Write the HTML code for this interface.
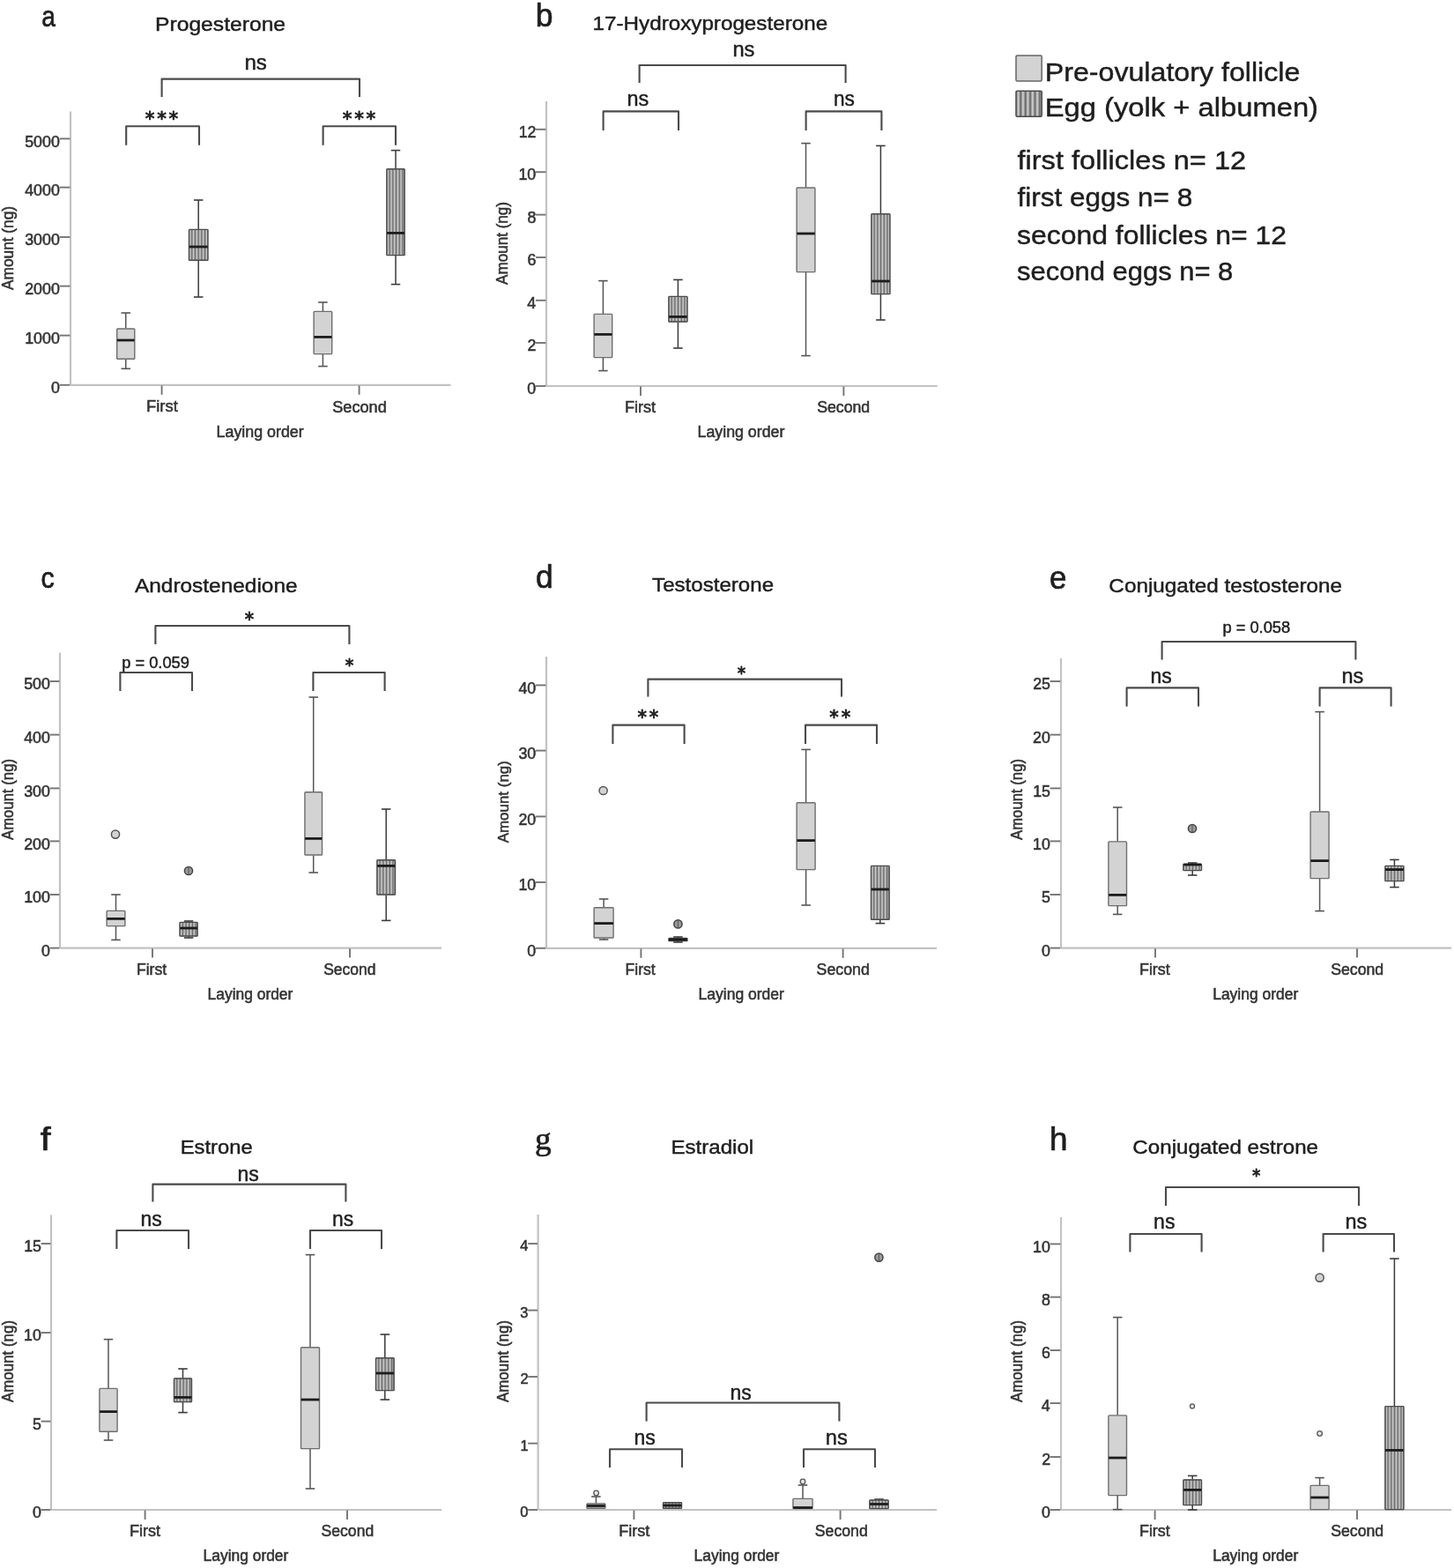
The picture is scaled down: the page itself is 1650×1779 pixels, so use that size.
<!DOCTYPE html>
<html><head><meta charset="utf-8"><title>Steroid hormone amounts by laying order</title>
<style>
html,body{margin:0;padding:0;background:#fff;}
body{width:1650px;height:1779px;overflow:hidden;}
svg{display:block;}

</style></head><body>
<svg width="1650" height="1779" viewBox="0 0 1650 1779">
<line x1="80" y1="126.5" x2="80" y2="436.8" stroke="#c2c2c2" stroke-width="2.2" stroke-linecap="butt"/>
<line x1="80" y1="436.8" x2="511.5" y2="436.8" stroke="#c2c2c2" stroke-width="2.2" stroke-linecap="butt"/>
<line x1="67.6" y1="436.8" x2="79.4" y2="436.8" stroke="#747474" stroke-width="1.9" stroke-linecap="butt"/>
<text x="57.94" y="445.9" font-size="17.8" textLength="9.9" lengthAdjust="spacingAndGlyphs" fill="#333333" stroke="#333333" stroke-width="0.55" font-family='"Liberation Sans", Arial, sans-serif'>0</text>
<line x1="67.6" y1="380.6" x2="79.4" y2="380.6" stroke="#747474" stroke-width="1.9" stroke-linecap="butt"/>
<text x="28.22" y="389.7" font-size="17.8" textLength="39.6" lengthAdjust="spacingAndGlyphs" fill="#333333" stroke="#333333" stroke-width="0.55" font-family='"Liberation Sans", Arial, sans-serif'>1000</text>
<line x1="67.6" y1="324.6" x2="79.4" y2="324.6" stroke="#747474" stroke-width="1.9" stroke-linecap="butt"/>
<text x="28.22" y="333.7" font-size="17.8" textLength="39.6" lengthAdjust="spacingAndGlyphs" fill="#333333" stroke="#333333" stroke-width="0.55" font-family='"Liberation Sans", Arial, sans-serif'>2000</text>
<line x1="67.6" y1="269" x2="79.4" y2="269" stroke="#747474" stroke-width="1.9" stroke-linecap="butt"/>
<text x="28.22" y="278.1" font-size="17.8" textLength="39.6" lengthAdjust="spacingAndGlyphs" fill="#333333" stroke="#333333" stroke-width="0.55" font-family='"Liberation Sans", Arial, sans-serif'>3000</text>
<line x1="67.6" y1="212.6" x2="79.4" y2="212.6" stroke="#747474" stroke-width="1.9" stroke-linecap="butt"/>
<text x="28.22" y="221.7" font-size="17.8" textLength="39.6" lengthAdjust="spacingAndGlyphs" fill="#333333" stroke="#333333" stroke-width="0.55" font-family='"Liberation Sans", Arial, sans-serif'>4000</text>
<line x1="67.6" y1="157.4" x2="79.4" y2="157.4" stroke="#747474" stroke-width="1.9" stroke-linecap="butt"/>
<text x="28.22" y="166.5" font-size="17.8" textLength="39.6" lengthAdjust="spacingAndGlyphs" fill="#333333" stroke="#333333" stroke-width="0.55" font-family='"Liberation Sans", Arial, sans-serif'>5000</text>
<line x1="183.6" y1="437.4" x2="183.6" y2="447.8" stroke="#747474" stroke-width="1.9" stroke-linecap="butt"/>
<line x1="407.6" y1="437.4" x2="407.6" y2="447.8" stroke="#747474" stroke-width="1.9" stroke-linecap="butt"/>
<text x="166.03" y="467.3" font-size="18" textLength="35.73" lengthAdjust="spacingAndGlyphs" fill="#333333" stroke="#333333" stroke-width="0.55" font-family='"Liberation Sans", Arial, sans-serif'>First</text>
<text x="377.18" y="467.6" font-size="18" textLength="61.63" lengthAdjust="spacingAndGlyphs" fill="#333333" stroke="#333333" stroke-width="0.55" font-family='"Liberation Sans", Arial, sans-serif'>Second</text>
<text x="245.57" y="496" font-size="17.5" textLength="99.17" lengthAdjust="spacingAndGlyphs" fill="#333333" stroke="#333333" stroke-width="0.55" font-family='"Liberation Sans", Arial, sans-serif'>Laying order</text>
<text transform="translate(15.47 329) rotate(-90)" x="0" y="0" font-size="17.75" textLength="95.08" lengthAdjust="spacingAndGlyphs" fill="#333333" stroke="#333333" stroke-width="0.55" font-family='"Liberation Sans", Arial, sans-serif'>Amount (ng)</text>
<line x1="142.75" y1="355" x2="142.75" y2="372.6" stroke="#555" stroke-width="1.5" stroke-linecap="butt"/>
<line x1="137.5" y1="355" x2="148" y2="355" stroke="#555" stroke-width="1.6" stroke-linecap="butt"/>
<line x1="142.75" y1="407.7" x2="142.75" y2="418.3" stroke="#555" stroke-width="1.5" stroke-linecap="butt"/>
<line x1="137.5" y1="418.3" x2="148" y2="418.3" stroke="#555" stroke-width="1.6" stroke-linecap="butt"/>
<rect x="132.7" y="373" width="20.1" height="34.3" fill="#d3d3d3" stroke="#6e6e6e" stroke-width="1.4" rx="0.8"/>
<line x1="132.9" y1="386" x2="152.6" y2="386" stroke="#1c1c1c" stroke-width="2.8" stroke-linecap="butt"/>
<line x1="225.2" y1="227" x2="225.2" y2="260" stroke="#3a3a3a" stroke-width="1.5" stroke-linecap="butt"/>
<line x1="219.95" y1="227" x2="230.45" y2="227" stroke="#3a3a3a" stroke-width="1.6" stroke-linecap="butt"/>
<line x1="225.2" y1="295.6" x2="225.2" y2="337" stroke="#3a3a3a" stroke-width="1.5" stroke-linecap="butt"/>
<line x1="219.95" y1="337" x2="230.45" y2="337" stroke="#3a3a3a" stroke-width="1.6" stroke-linecap="butt"/>
<rect x="214" y="260" width="22.4" height="35.6" fill="#9c9c9c" stroke="none"/>
<line x1="215.9" y1="260" x2="215.9" y2="295.6" stroke="#cfcfcf" stroke-width="1" stroke-linecap="butt"/>
<line x1="217.75" y1="260" x2="217.75" y2="295.6" stroke="#6f6f6f" stroke-width="1" stroke-linecap="butt"/>
<line x1="219.6" y1="260" x2="219.6" y2="295.6" stroke="#cfcfcf" stroke-width="1" stroke-linecap="butt"/>
<line x1="221.45" y1="260" x2="221.45" y2="295.6" stroke="#6f6f6f" stroke-width="1" stroke-linecap="butt"/>
<line x1="223.3" y1="260" x2="223.3" y2="295.6" stroke="#cfcfcf" stroke-width="1" stroke-linecap="butt"/>
<line x1="225.15" y1="260" x2="225.15" y2="295.6" stroke="#6f6f6f" stroke-width="1" stroke-linecap="butt"/>
<line x1="227" y1="260" x2="227" y2="295.6" stroke="#cfcfcf" stroke-width="1" stroke-linecap="butt"/>
<line x1="228.85" y1="260" x2="228.85" y2="295.6" stroke="#6f6f6f" stroke-width="1" stroke-linecap="butt"/>
<line x1="230.7" y1="260" x2="230.7" y2="295.6" stroke="#cfcfcf" stroke-width="1" stroke-linecap="butt"/>
<line x1="232.55" y1="260" x2="232.55" y2="295.6" stroke="#6f6f6f" stroke-width="1" stroke-linecap="butt"/>
<line x1="234.4" y1="260" x2="234.4" y2="295.6" stroke="#cfcfcf" stroke-width="1" stroke-linecap="butt"/>
<rect x="214.5" y="260.4" width="21.4" height="34.8" fill="none" stroke="#4a4a4a" stroke-width="1.4" rx="0.8"/>
<line x1="214.7" y1="280" x2="235.7" y2="280" stroke="#1c1c1c" stroke-width="2.8" stroke-linecap="butt"/>
<line x1="366.4" y1="343" x2="366.4" y2="353" stroke="#555" stroke-width="1.5" stroke-linecap="butt"/>
<line x1="361.15" y1="343" x2="371.65" y2="343" stroke="#555" stroke-width="1.6" stroke-linecap="butt"/>
<line x1="366.4" y1="402" x2="366.4" y2="415.6" stroke="#555" stroke-width="1.5" stroke-linecap="butt"/>
<line x1="361.15" y1="415.6" x2="371.65" y2="415.6" stroke="#555" stroke-width="1.6" stroke-linecap="butt"/>
<rect x="356.1" y="353.4" width="20.6" height="48.2" fill="#d3d3d3" stroke="#6e6e6e" stroke-width="1.4" rx="0.8"/>
<line x1="356.3" y1="382.4" x2="376.5" y2="382.4" stroke="#1c1c1c" stroke-width="2.8" stroke-linecap="butt"/>
<line x1="449" y1="170.6" x2="449" y2="191.4" stroke="#3a3a3a" stroke-width="1.5" stroke-linecap="butt"/>
<line x1="443.75" y1="170.6" x2="454.25" y2="170.6" stroke="#3a3a3a" stroke-width="1.6" stroke-linecap="butt"/>
<line x1="449" y1="290" x2="449" y2="322.6" stroke="#3a3a3a" stroke-width="1.5" stroke-linecap="butt"/>
<line x1="443.75" y1="322.6" x2="454.25" y2="322.6" stroke="#3a3a3a" stroke-width="1.6" stroke-linecap="butt"/>
<rect x="438.4" y="191.4" width="21.2" height="98.6" fill="#9c9c9c" stroke="none"/>
<line x1="440.3" y1="191.4" x2="440.3" y2="290" stroke="#cfcfcf" stroke-width="1" stroke-linecap="butt"/>
<line x1="442.15" y1="191.4" x2="442.15" y2="290" stroke="#6f6f6f" stroke-width="1" stroke-linecap="butt"/>
<line x1="444" y1="191.4" x2="444" y2="290" stroke="#cfcfcf" stroke-width="1" stroke-linecap="butt"/>
<line x1="445.85" y1="191.4" x2="445.85" y2="290" stroke="#6f6f6f" stroke-width="1" stroke-linecap="butt"/>
<line x1="447.7" y1="191.4" x2="447.7" y2="290" stroke="#cfcfcf" stroke-width="1" stroke-linecap="butt"/>
<line x1="449.55" y1="191.4" x2="449.55" y2="290" stroke="#6f6f6f" stroke-width="1" stroke-linecap="butt"/>
<line x1="451.4" y1="191.4" x2="451.4" y2="290" stroke="#cfcfcf" stroke-width="1" stroke-linecap="butt"/>
<line x1="453.25" y1="191.4" x2="453.25" y2="290" stroke="#6f6f6f" stroke-width="1" stroke-linecap="butt"/>
<line x1="455.1" y1="191.4" x2="455.1" y2="290" stroke="#cfcfcf" stroke-width="1" stroke-linecap="butt"/>
<line x1="456.95" y1="191.4" x2="456.95" y2="290" stroke="#6f6f6f" stroke-width="1" stroke-linecap="butt"/>
<rect x="438.9" y="191.8" width="20.2" height="97.8" fill="none" stroke="#4a4a4a" stroke-width="1.4" rx="0.8"/>
<line x1="439.1" y1="264.4" x2="458.9" y2="264.4" stroke="#1c1c1c" stroke-width="2.8" stroke-linecap="butt"/>
<path d="M183.6 110 V89.6 H408 V110" fill="none" stroke="#4a4a4a" stroke-width="2.1" stroke-linejoin="round"/>
<path d="M143.2 164.8 V143.3 H226 V164.8" fill="none" stroke="#4a4a4a" stroke-width="2.1" stroke-linejoin="round"/>
<path d="M366.6 164.8 V143.3 H449 V164.8" fill="none" stroke="#4a4a4a" stroke-width="2.1" stroke-linejoin="round"/>
<text x="277.43" y="79.1" font-size="23.5" textLength="25.44" lengthAdjust="spacingAndGlyphs" fill="#1e1e1e" stroke="#1e1e1e" stroke-width="0.45" font-family='"Liberation Sans", Arial, sans-serif'>ns</text>
<text x="164.87" y="141.77" font-size="21.3" letter-spacing="2.65" fill="#1e1e1e" stroke="#1e1e1e" stroke-width="0.9" stroke-linejoin="round" font-family='"DejaVu Sans", sans-serif'>***</text>
<text x="388.87" y="141.77" font-size="21.3" letter-spacing="2.65" fill="#1e1e1e" stroke="#1e1e1e" stroke-width="0.9" stroke-linejoin="round" font-family='"DejaVu Sans", sans-serif'>***</text>
<text x="176.03" y="35" font-size="22.6" textLength="148.06" lengthAdjust="spacingAndGlyphs" fill="#1e1e1e" stroke="#1e1e1e" stroke-width="0.45" font-family='"Liberation Sans", Arial, sans-serif'>Progesterone</text>
<text x="47.27" y="30.06" font-size="33.82" textLength="15.66" lengthAdjust="spacingAndGlyphs" fill="#1e1e1e" stroke="#1e1e1e" stroke-width="0.7" font-family='"Liberation Sans", Arial, sans-serif'>a</text>
<line x1="620" y1="115" x2="620" y2="438" stroke="#c2c2c2" stroke-width="2.2" stroke-linecap="butt"/>
<line x1="620" y1="438" x2="1063.6" y2="438" stroke="#c2c2c2" stroke-width="2.2" stroke-linecap="butt"/>
<line x1="608" y1="438" x2="619.4" y2="438" stroke="#747474" stroke-width="1.9" stroke-linecap="butt"/>
<text x="598.34" y="447.1" font-size="17.8" textLength="9.9" lengthAdjust="spacingAndGlyphs" fill="#333333" stroke="#333333" stroke-width="0.55" font-family='"Liberation Sans", Arial, sans-serif'>0</text>
<line x1="608" y1="389" x2="619.4" y2="389" stroke="#747474" stroke-width="1.9" stroke-linecap="butt"/>
<text x="598.61" y="398.1" font-size="17.8" textLength="9.9" lengthAdjust="spacingAndGlyphs" fill="#333333" stroke="#333333" stroke-width="0.55" font-family='"Liberation Sans", Arial, sans-serif'>2</text>
<line x1="608" y1="340.8" x2="619.4" y2="340.8" stroke="#747474" stroke-width="1.9" stroke-linecap="butt"/>
<text x="598.25" y="349.9" font-size="17.8" textLength="9.9" lengthAdjust="spacingAndGlyphs" fill="#333333" stroke="#333333" stroke-width="0.55" font-family='"Liberation Sans", Arial, sans-serif'>4</text>
<line x1="608" y1="292" x2="619.4" y2="292" stroke="#747474" stroke-width="1.9" stroke-linecap="butt"/>
<text x="598.43" y="301.1" font-size="17.8" textLength="9.9" lengthAdjust="spacingAndGlyphs" fill="#333333" stroke="#333333" stroke-width="0.55" font-family='"Liberation Sans", Arial, sans-serif'>6</text>
<line x1="608" y1="243.6" x2="619.4" y2="243.6" stroke="#747474" stroke-width="1.9" stroke-linecap="butt"/>
<text x="598.43" y="252.7" font-size="17.8" textLength="9.9" lengthAdjust="spacingAndGlyphs" fill="#333333" stroke="#333333" stroke-width="0.55" font-family='"Liberation Sans", Arial, sans-serif'>8</text>
<line x1="608" y1="195.2" x2="619.4" y2="195.2" stroke="#747474" stroke-width="1.9" stroke-linecap="butt"/>
<text x="588.47" y="204.3" font-size="17.8" textLength="19.8" lengthAdjust="spacingAndGlyphs" fill="#333333" stroke="#333333" stroke-width="0.55" font-family='"Liberation Sans", Arial, sans-serif'>10</text>
<line x1="608" y1="146.8" x2="619.4" y2="146.8" stroke="#747474" stroke-width="1.9" stroke-linecap="butt"/>
<text x="588.73" y="155.9" font-size="17.8" textLength="19.8" lengthAdjust="spacingAndGlyphs" fill="#333333" stroke="#333333" stroke-width="0.55" font-family='"Liberation Sans", Arial, sans-serif'>12</text>
<line x1="727" y1="438.6" x2="727" y2="449" stroke="#747474" stroke-width="1.9" stroke-linecap="butt"/>
<line x1="957.4" y1="438.6" x2="957.4" y2="449" stroke="#747474" stroke-width="1.9" stroke-linecap="butt"/>
<text x="708.95" y="468" font-size="18" textLength="35.21" lengthAdjust="spacingAndGlyphs" fill="#333333" stroke="#333333" stroke-width="0.55" font-family='"Liberation Sans", Arial, sans-serif'>First</text>
<text x="927.2" y="468" font-size="18" textLength="59.98" lengthAdjust="spacingAndGlyphs" fill="#333333" stroke="#333333" stroke-width="0.55" font-family='"Liberation Sans", Arial, sans-serif'>Second</text>
<text x="791.58" y="496" font-size="17.5" textLength="98.76" lengthAdjust="spacingAndGlyphs" fill="#333333" stroke="#333333" stroke-width="0.55" font-family='"Liberation Sans", Arial, sans-serif'>Laying order</text>
<text transform="translate(576.47 323) rotate(-90)" x="0" y="0" font-size="17.75" textLength="94.07" lengthAdjust="spacingAndGlyphs" fill="#333333" stroke="#333333" stroke-width="0.55" font-family='"Liberation Sans", Arial, sans-serif'>Amount (ng)</text>
<line x1="684.4" y1="318.6" x2="684.4" y2="356" stroke="#555" stroke-width="1.5" stroke-linecap="butt"/>
<line x1="679.15" y1="318.6" x2="689.65" y2="318.6" stroke="#555" stroke-width="1.6" stroke-linecap="butt"/>
<line x1="684.4" y1="406" x2="684.4" y2="420.6" stroke="#555" stroke-width="1.5" stroke-linecap="butt"/>
<line x1="679.15" y1="420.6" x2="689.65" y2="420.6" stroke="#555" stroke-width="1.6" stroke-linecap="butt"/>
<rect x="674.1" y="356.4" width="20.6" height="49.2" fill="#d3d3d3" stroke="#6e6e6e" stroke-width="1.4" rx="0.8"/>
<line x1="674.3" y1="379.4" x2="694.5" y2="379.4" stroke="#1c1c1c" stroke-width="2.8" stroke-linecap="butt"/>
<line x1="769.4" y1="317.4" x2="769.4" y2="336" stroke="#3a3a3a" stroke-width="1.5" stroke-linecap="butt"/>
<line x1="764.15" y1="317.4" x2="774.65" y2="317.4" stroke="#3a3a3a" stroke-width="1.6" stroke-linecap="butt"/>
<line x1="769.4" y1="365.4" x2="769.4" y2="395" stroke="#3a3a3a" stroke-width="1.5" stroke-linecap="butt"/>
<line x1="764.15" y1="395" x2="774.65" y2="395" stroke="#3a3a3a" stroke-width="1.6" stroke-linecap="butt"/>
<rect x="758.4" y="336" width="22" height="29.4" fill="#9c9c9c" stroke="none"/>
<line x1="760.3" y1="336" x2="760.3" y2="365.4" stroke="#cfcfcf" stroke-width="1" stroke-linecap="butt"/>
<line x1="762.15" y1="336" x2="762.15" y2="365.4" stroke="#6f6f6f" stroke-width="1" stroke-linecap="butt"/>
<line x1="764" y1="336" x2="764" y2="365.4" stroke="#cfcfcf" stroke-width="1" stroke-linecap="butt"/>
<line x1="765.85" y1="336" x2="765.85" y2="365.4" stroke="#6f6f6f" stroke-width="1" stroke-linecap="butt"/>
<line x1="767.7" y1="336" x2="767.7" y2="365.4" stroke="#cfcfcf" stroke-width="1" stroke-linecap="butt"/>
<line x1="769.55" y1="336" x2="769.55" y2="365.4" stroke="#6f6f6f" stroke-width="1" stroke-linecap="butt"/>
<line x1="771.4" y1="336" x2="771.4" y2="365.4" stroke="#cfcfcf" stroke-width="1" stroke-linecap="butt"/>
<line x1="773.25" y1="336" x2="773.25" y2="365.4" stroke="#6f6f6f" stroke-width="1" stroke-linecap="butt"/>
<line x1="775.1" y1="336" x2="775.1" y2="365.4" stroke="#cfcfcf" stroke-width="1" stroke-linecap="butt"/>
<line x1="776.95" y1="336" x2="776.95" y2="365.4" stroke="#6f6f6f" stroke-width="1" stroke-linecap="butt"/>
<line x1="778.8" y1="336" x2="778.8" y2="365.4" stroke="#cfcfcf" stroke-width="1" stroke-linecap="butt"/>
<rect x="758.9" y="336.4" width="21" height="28.6" fill="none" stroke="#4a4a4a" stroke-width="1.4" rx="0.8"/>
<line x1="759.1" y1="359.4" x2="779.7" y2="359.4" stroke="#1c1c1c" stroke-width="2.8" stroke-linecap="butt"/>
<line x1="914.5" y1="162.6" x2="914.5" y2="212.6" stroke="#555" stroke-width="1.5" stroke-linecap="butt"/>
<line x1="909.25" y1="162.6" x2="919.75" y2="162.6" stroke="#555" stroke-width="1.6" stroke-linecap="butt"/>
<line x1="914.5" y1="309" x2="914.5" y2="403.6" stroke="#555" stroke-width="1.5" stroke-linecap="butt"/>
<line x1="909.25" y1="403.6" x2="919.75" y2="403.6" stroke="#555" stroke-width="1.6" stroke-linecap="butt"/>
<rect x="904.1" y="213" width="20.8" height="95.6" fill="#d3d3d3" stroke="#6e6e6e" stroke-width="1.4" rx="0.8"/>
<line x1="904.3" y1="265" x2="924.7" y2="265" stroke="#1c1c1c" stroke-width="2.8" stroke-linecap="butt"/>
<line x1="999.4" y1="165.4" x2="999.4" y2="242.4" stroke="#3a3a3a" stroke-width="1.5" stroke-linecap="butt"/>
<line x1="994.15" y1="165.4" x2="1004.65" y2="165.4" stroke="#3a3a3a" stroke-width="1.6" stroke-linecap="butt"/>
<line x1="999.4" y1="334" x2="999.4" y2="363" stroke="#3a3a3a" stroke-width="1.5" stroke-linecap="butt"/>
<line x1="994.15" y1="363" x2="1004.65" y2="363" stroke="#3a3a3a" stroke-width="1.6" stroke-linecap="butt"/>
<rect x="988.4" y="242.4" width="22" height="91.6" fill="#9c9c9c" stroke="none"/>
<line x1="990.3" y1="242.4" x2="990.3" y2="334" stroke="#cfcfcf" stroke-width="1" stroke-linecap="butt"/>
<line x1="992.15" y1="242.4" x2="992.15" y2="334" stroke="#6f6f6f" stroke-width="1" stroke-linecap="butt"/>
<line x1="994" y1="242.4" x2="994" y2="334" stroke="#cfcfcf" stroke-width="1" stroke-linecap="butt"/>
<line x1="995.85" y1="242.4" x2="995.85" y2="334" stroke="#6f6f6f" stroke-width="1" stroke-linecap="butt"/>
<line x1="997.7" y1="242.4" x2="997.7" y2="334" stroke="#cfcfcf" stroke-width="1" stroke-linecap="butt"/>
<line x1="999.55" y1="242.4" x2="999.55" y2="334" stroke="#6f6f6f" stroke-width="1" stroke-linecap="butt"/>
<line x1="1001.4" y1="242.4" x2="1001.4" y2="334" stroke="#cfcfcf" stroke-width="1" stroke-linecap="butt"/>
<line x1="1003.25" y1="242.4" x2="1003.25" y2="334" stroke="#6f6f6f" stroke-width="1" stroke-linecap="butt"/>
<line x1="1005.1" y1="242.4" x2="1005.1" y2="334" stroke="#cfcfcf" stroke-width="1" stroke-linecap="butt"/>
<line x1="1006.95" y1="242.4" x2="1006.95" y2="334" stroke="#6f6f6f" stroke-width="1" stroke-linecap="butt"/>
<line x1="1008.8" y1="242.4" x2="1008.8" y2="334" stroke="#cfcfcf" stroke-width="1" stroke-linecap="butt"/>
<rect x="988.9" y="242.8" width="21" height="90.8" fill="none" stroke="#4a4a4a" stroke-width="1.4" rx="0.8"/>
<line x1="989.1" y1="319" x2="1009.7" y2="319" stroke="#1c1c1c" stroke-width="2.8" stroke-linecap="butt"/>
<path d="M725.6 94 V74 H959.6 V94" fill="none" stroke="#4a4a4a" stroke-width="2.1" stroke-linejoin="round"/>
<path d="M684.6 148 V126.4 H770 V148" fill="none" stroke="#4a4a4a" stroke-width="2.1" stroke-linejoin="round"/>
<path d="M914.6 148 V126.4 H1000.4 V148" fill="none" stroke="#4a4a4a" stroke-width="2.1" stroke-linejoin="round"/>
<text x="831.46" y="63.5" font-size="23.5" textLength="24.99" lengthAdjust="spacingAndGlyphs" fill="#1e1e1e" stroke="#1e1e1e" stroke-width="0.45" font-family='"Liberation Sans", Arial, sans-serif'>ns</text>
<text x="711.48" y="119.9" font-size="23.5" textLength="24.77" lengthAdjust="spacingAndGlyphs" fill="#1e1e1e" stroke="#1e1e1e" stroke-width="0.45" font-family='"Liberation Sans", Arial, sans-serif'>ns</text>
<text x="945.93" y="119.9" font-size="23.5" textLength="23.89" lengthAdjust="spacingAndGlyphs" fill="#1e1e1e" stroke="#1e1e1e" stroke-width="0.45" font-family='"Liberation Sans", Arial, sans-serif'>ns</text>
<text x="672.58" y="34.4" font-size="22.6" textLength="266.54" lengthAdjust="spacingAndGlyphs" fill="#1e1e1e" stroke="#1e1e1e" stroke-width="0.45" font-family='"Liberation Sans", Arial, sans-serif'>17-Hydroxyprogesterone</text>
<text x="607.69" y="29.73" font-size="37.28" textLength="19.77" lengthAdjust="spacingAndGlyphs" fill="#1e1e1e" stroke="#1e1e1e" stroke-width="0.7" font-family='"Liberation Sans", Arial, sans-serif'>b</text>
<line x1="68" y1="740.6" x2="68" y2="1075.6" stroke="#c2c2c2" stroke-width="2.2" stroke-linecap="butt"/>
<line x1="68" y1="1075.6" x2="501" y2="1075.6" stroke="#c2c2c2" stroke-width="2.2" stroke-linecap="butt"/>
<line x1="56.6" y1="1075.6" x2="67.4" y2="1075.6" stroke="#747474" stroke-width="1.9" stroke-linecap="butt"/>
<text x="46.94" y="1084.7" font-size="17.8" textLength="9.9" lengthAdjust="spacingAndGlyphs" fill="#333333" stroke="#333333" stroke-width="0.55" font-family='"Liberation Sans", Arial, sans-serif'>0</text>
<line x1="56.6" y1="1015" x2="67.4" y2="1015" stroke="#747474" stroke-width="1.9" stroke-linecap="butt"/>
<text x="27.19" y="1024.1" font-size="17.8" textLength="29.7" lengthAdjust="spacingAndGlyphs" fill="#333333" stroke="#333333" stroke-width="0.55" font-family='"Liberation Sans", Arial, sans-serif'>100</text>
<line x1="56.6" y1="954.4" x2="67.4" y2="954.4" stroke="#747474" stroke-width="1.9" stroke-linecap="butt"/>
<text x="27.19" y="963.5" font-size="17.8" textLength="29.7" lengthAdjust="spacingAndGlyphs" fill="#333333" stroke="#333333" stroke-width="0.55" font-family='"Liberation Sans", Arial, sans-serif'>200</text>
<line x1="56.6" y1="894.4" x2="67.4" y2="894.4" stroke="#747474" stroke-width="1.9" stroke-linecap="butt"/>
<text x="27.19" y="903.5" font-size="17.8" textLength="29.7" lengthAdjust="spacingAndGlyphs" fill="#333333" stroke="#333333" stroke-width="0.55" font-family='"Liberation Sans", Arial, sans-serif'>300</text>
<line x1="56.6" y1="833.6" x2="67.4" y2="833.6" stroke="#747474" stroke-width="1.9" stroke-linecap="butt"/>
<text x="27.19" y="842.7" font-size="17.8" textLength="29.7" lengthAdjust="spacingAndGlyphs" fill="#333333" stroke="#333333" stroke-width="0.55" font-family='"Liberation Sans", Arial, sans-serif'>400</text>
<line x1="56.6" y1="773" x2="67.4" y2="773" stroke="#747474" stroke-width="1.9" stroke-linecap="butt"/>
<text x="27.19" y="782.1" font-size="17.8" textLength="29.7" lengthAdjust="spacingAndGlyphs" fill="#333333" stroke="#333333" stroke-width="0.55" font-family='"Liberation Sans", Arial, sans-serif'>500</text>
<line x1="173" y1="1076.2" x2="173" y2="1086.6" stroke="#747474" stroke-width="1.9" stroke-linecap="butt"/>
<line x1="397" y1="1076.2" x2="397" y2="1086.6" stroke="#747474" stroke-width="1.9" stroke-linecap="butt"/>
<text x="154.99" y="1105.6" font-size="18" textLength="34.16" lengthAdjust="spacingAndGlyphs" fill="#333333" stroke="#333333" stroke-width="0.55" font-family='"Liberation Sans", Arial, sans-serif'>First</text>
<text x="367.21" y="1105.6" font-size="18" textLength="59.36" lengthAdjust="spacingAndGlyphs" fill="#333333" stroke="#333333" stroke-width="0.55" font-family='"Liberation Sans", Arial, sans-serif'>Second</text>
<text x="235.61" y="1134" font-size="17.5" textLength="96.73" lengthAdjust="spacingAndGlyphs" fill="#333333" stroke="#333333" stroke-width="0.55" font-family='"Liberation Sans", Arial, sans-serif'>Laying order</text>
<text transform="translate(15.47 953) rotate(-90)" x="0" y="0" font-size="17.75" textLength="92.05" lengthAdjust="spacingAndGlyphs" fill="#333333" stroke="#333333" stroke-width="0.55" font-family='"Liberation Sans", Arial, sans-serif'>Amount (ng)</text>
<line x1="131.5" y1="1015" x2="131.5" y2="1033" stroke="#555" stroke-width="1.5" stroke-linecap="butt"/>
<line x1="126.25" y1="1015" x2="136.75" y2="1015" stroke="#555" stroke-width="1.6" stroke-linecap="butt"/>
<line x1="131.5" y1="1051" x2="131.5" y2="1066.4" stroke="#555" stroke-width="1.5" stroke-linecap="butt"/>
<line x1="126.25" y1="1066.4" x2="136.75" y2="1066.4" stroke="#555" stroke-width="1.6" stroke-linecap="butt"/>
<rect x="121.1" y="1033.4" width="20.8" height="17.2" fill="#d3d3d3" stroke="#6e6e6e" stroke-width="1.4" rx="0.8"/>
<line x1="121.3" y1="1042.4" x2="141.7" y2="1042.4" stroke="#1c1c1c" stroke-width="2.8" stroke-linecap="butt"/>
<line x1="214.1" y1="1045" x2="214.1" y2="1046" stroke="#3a3a3a" stroke-width="1.5" stroke-linecap="butt"/>
<line x1="208.85" y1="1045" x2="219.35" y2="1045" stroke="#3a3a3a" stroke-width="1.6" stroke-linecap="butt"/>
<line x1="214.1" y1="1062.4" x2="214.1" y2="1064" stroke="#3a3a3a" stroke-width="1.5" stroke-linecap="butt"/>
<line x1="208.85" y1="1064" x2="219.35" y2="1064" stroke="#3a3a3a" stroke-width="1.6" stroke-linecap="butt"/>
<rect x="203.6" y="1046" width="21" height="16.4" fill="#9c9c9c" stroke="none"/>
<line x1="205.5" y1="1046" x2="205.5" y2="1062.4" stroke="#cfcfcf" stroke-width="1" stroke-linecap="butt"/>
<line x1="207.35" y1="1046" x2="207.35" y2="1062.4" stroke="#6f6f6f" stroke-width="1" stroke-linecap="butt"/>
<line x1="209.2" y1="1046" x2="209.2" y2="1062.4" stroke="#cfcfcf" stroke-width="1" stroke-linecap="butt"/>
<line x1="211.05" y1="1046" x2="211.05" y2="1062.4" stroke="#6f6f6f" stroke-width="1" stroke-linecap="butt"/>
<line x1="212.9" y1="1046" x2="212.9" y2="1062.4" stroke="#cfcfcf" stroke-width="1" stroke-linecap="butt"/>
<line x1="214.75" y1="1046" x2="214.75" y2="1062.4" stroke="#6f6f6f" stroke-width="1" stroke-linecap="butt"/>
<line x1="216.6" y1="1046" x2="216.6" y2="1062.4" stroke="#cfcfcf" stroke-width="1" stroke-linecap="butt"/>
<line x1="218.45" y1="1046" x2="218.45" y2="1062.4" stroke="#6f6f6f" stroke-width="1" stroke-linecap="butt"/>
<line x1="220.3" y1="1046" x2="220.3" y2="1062.4" stroke="#cfcfcf" stroke-width="1" stroke-linecap="butt"/>
<line x1="222.15" y1="1046" x2="222.15" y2="1062.4" stroke="#6f6f6f" stroke-width="1" stroke-linecap="butt"/>
<rect x="204.1" y="1046.4" width="20" height="15.6" fill="none" stroke="#4a4a4a" stroke-width="1.4" rx="0.8"/>
<line x1="204.3" y1="1053" x2="223.9" y2="1053" stroke="#1c1c1c" stroke-width="2.8" stroke-linecap="butt"/>
<line x1="355.7" y1="791" x2="355.7" y2="898.4" stroke="#555" stroke-width="1.5" stroke-linecap="butt"/>
<line x1="350.45" y1="791" x2="360.95" y2="791" stroke="#555" stroke-width="1.6" stroke-linecap="butt"/>
<line x1="355.7" y1="970.4" x2="355.7" y2="990" stroke="#555" stroke-width="1.5" stroke-linecap="butt"/>
<line x1="350.45" y1="990" x2="360.95" y2="990" stroke="#555" stroke-width="1.6" stroke-linecap="butt"/>
<rect x="345.9" y="898.8" width="19.6" height="71.2" fill="#d3d3d3" stroke="#6e6e6e" stroke-width="1.4" rx="0.8"/>
<line x1="346.1" y1="951.4" x2="365.3" y2="951.4" stroke="#1c1c1c" stroke-width="2.8" stroke-linecap="butt"/>
<line x1="438.2" y1="918" x2="438.2" y2="975.4" stroke="#3a3a3a" stroke-width="1.5" stroke-linecap="butt"/>
<line x1="432.95" y1="918" x2="443.45" y2="918" stroke="#3a3a3a" stroke-width="1.6" stroke-linecap="butt"/>
<line x1="438.2" y1="1015.4" x2="438.2" y2="1044.4" stroke="#3a3a3a" stroke-width="1.5" stroke-linecap="butt"/>
<line x1="432.95" y1="1044.4" x2="443.45" y2="1044.4" stroke="#3a3a3a" stroke-width="1.6" stroke-linecap="butt"/>
<rect x="427.4" y="975.4" width="21.6" height="40" fill="#9c9c9c" stroke="none"/>
<line x1="429.3" y1="975.4" x2="429.3" y2="1015.4" stroke="#cfcfcf" stroke-width="1" stroke-linecap="butt"/>
<line x1="431.15" y1="975.4" x2="431.15" y2="1015.4" stroke="#6f6f6f" stroke-width="1" stroke-linecap="butt"/>
<line x1="433" y1="975.4" x2="433" y2="1015.4" stroke="#cfcfcf" stroke-width="1" stroke-linecap="butt"/>
<line x1="434.85" y1="975.4" x2="434.85" y2="1015.4" stroke="#6f6f6f" stroke-width="1" stroke-linecap="butt"/>
<line x1="436.7" y1="975.4" x2="436.7" y2="1015.4" stroke="#cfcfcf" stroke-width="1" stroke-linecap="butt"/>
<line x1="438.55" y1="975.4" x2="438.55" y2="1015.4" stroke="#6f6f6f" stroke-width="1" stroke-linecap="butt"/>
<line x1="440.4" y1="975.4" x2="440.4" y2="1015.4" stroke="#cfcfcf" stroke-width="1" stroke-linecap="butt"/>
<line x1="442.25" y1="975.4" x2="442.25" y2="1015.4" stroke="#6f6f6f" stroke-width="1" stroke-linecap="butt"/>
<line x1="444.1" y1="975.4" x2="444.1" y2="1015.4" stroke="#cfcfcf" stroke-width="1" stroke-linecap="butt"/>
<line x1="445.95" y1="975.4" x2="445.95" y2="1015.4" stroke="#6f6f6f" stroke-width="1" stroke-linecap="butt"/>
<rect x="427.9" y="975.8" width="20.6" height="39.2" fill="none" stroke="#4a4a4a" stroke-width="1.4" rx="0.8"/>
<line x1="428.1" y1="982.4" x2="448.3" y2="982.4" stroke="#1c1c1c" stroke-width="2.8" stroke-linecap="butt"/>
<circle cx="131" cy="946.6" r="4.6" fill="#d3d3d3" stroke="#555" stroke-width="1.5"/>
<circle cx="214" cy="988" r="4.6" fill="#9a9a9a" stroke="#444" stroke-width="1.5"/>
<line x1="214" y1="984.4" x2="214" y2="991.6" stroke="#555" stroke-width="1" stroke-linecap="butt"/>
<path d="M176.4 731 V710 H396.4 V731" fill="none" stroke="#4a4a4a" stroke-width="2.1" stroke-linejoin="round"/>
<path d="M136.4 784 V763 H218 V784" fill="none" stroke="#4a4a4a" stroke-width="2.1" stroke-linejoin="round"/>
<path d="M355.4 784 V763 H436.6 V784" fill="none" stroke="#4a4a4a" stroke-width="2.1" stroke-linejoin="round"/>
<text x="277.84" y="710.28" font-size="20.65" letter-spacing="2.97" fill="#1e1e1e" stroke="#1e1e1e" stroke-width="0.9" stroke-linejoin="round" font-family='"DejaVu Sans", sans-serif'>*</text>
<text x="138.21" y="758" font-size="17.5" textLength="76.67" lengthAdjust="spacingAndGlyphs" fill="#1e1e1e" stroke="#1e1e1e" stroke-width="0.45" font-family='"Liberation Sans", Arial, sans-serif'>p = 0.059</text>
<text x="391.82" y="761.16" font-size="19.13" letter-spacing="3.73" fill="#1e1e1e" stroke="#1e1e1e" stroke-width="0.9" stroke-linejoin="round" font-family='"DejaVu Sans", sans-serif'>*</text>
<text x="153" y="671.6" font-size="22.6" textLength="184.54" lengthAdjust="spacingAndGlyphs" fill="#1e1e1e" stroke="#1e1e1e" stroke-width="0.45" font-family='"Liberation Sans", Arial, sans-serif'>Androstenedione</text>
<text x="46.49" y="666.87" font-size="32.91" textLength="15.17" lengthAdjust="spacingAndGlyphs" fill="#1e1e1e" stroke="#1e1e1e" stroke-width="0.7" font-family='"Liberation Sans", Arial, sans-serif'>c</text>
<line x1="620" y1="745" x2="620" y2="1075.8" stroke="#c2c2c2" stroke-width="2.2" stroke-linecap="butt"/>
<line x1="620" y1="1075.8" x2="1063" y2="1075.8" stroke="#c2c2c2" stroke-width="2.2" stroke-linecap="butt"/>
<line x1="608" y1="1075.8" x2="619.4" y2="1075.8" stroke="#747474" stroke-width="1.9" stroke-linecap="butt"/>
<text x="598.34" y="1084.9" font-size="17.8" textLength="9.9" lengthAdjust="spacingAndGlyphs" fill="#333333" stroke="#333333" stroke-width="0.55" font-family='"Liberation Sans", Arial, sans-serif'>0</text>
<line x1="608" y1="1001" x2="619.4" y2="1001" stroke="#747474" stroke-width="1.9" stroke-linecap="butt"/>
<text x="588.47" y="1010.1" font-size="17.8" textLength="19.8" lengthAdjust="spacingAndGlyphs" fill="#333333" stroke="#333333" stroke-width="0.55" font-family='"Liberation Sans", Arial, sans-serif'>10</text>
<line x1="608" y1="926.4" x2="619.4" y2="926.4" stroke="#747474" stroke-width="1.9" stroke-linecap="butt"/>
<text x="588.47" y="935.5" font-size="17.8" textLength="19.8" lengthAdjust="spacingAndGlyphs" fill="#333333" stroke="#333333" stroke-width="0.55" font-family='"Liberation Sans", Arial, sans-serif'>20</text>
<line x1="608" y1="851.6" x2="619.4" y2="851.6" stroke="#747474" stroke-width="1.9" stroke-linecap="butt"/>
<text x="588.47" y="860.7" font-size="17.8" textLength="19.8" lengthAdjust="spacingAndGlyphs" fill="#333333" stroke="#333333" stroke-width="0.55" font-family='"Liberation Sans", Arial, sans-serif'>30</text>
<line x1="608" y1="777.4" x2="619.4" y2="777.4" stroke="#747474" stroke-width="1.9" stroke-linecap="butt"/>
<text x="588.47" y="786.5" font-size="17.8" textLength="19.8" lengthAdjust="spacingAndGlyphs" fill="#333333" stroke="#333333" stroke-width="0.55" font-family='"Liberation Sans", Arial, sans-serif'>40</text>
<line x1="727.4" y1="1076.4" x2="727.4" y2="1086.8" stroke="#747474" stroke-width="1.9" stroke-linecap="butt"/>
<line x1="956.6" y1="1076.4" x2="956.6" y2="1086.8" stroke="#747474" stroke-width="1.9" stroke-linecap="butt"/>
<text x="709.59" y="1105.6" font-size="18" textLength="34.16" lengthAdjust="spacingAndGlyphs" fill="#333333" stroke="#333333" stroke-width="0.55" font-family='"Liberation Sans", Arial, sans-serif'>First</text>
<text x="926.6" y="1105.6" font-size="18" textLength="60.18" lengthAdjust="spacingAndGlyphs" fill="#333333" stroke="#333333" stroke-width="0.55" font-family='"Liberation Sans", Arial, sans-serif'>Second</text>
<text x="792.6" y="1134" font-size="17.5" textLength="97.34" lengthAdjust="spacingAndGlyphs" fill="#333333" stroke="#333333" stroke-width="0.55" font-family='"Liberation Sans", Arial, sans-serif'>Laying order</text>
<text transform="translate(576.78 956.3) rotate(-90)" x="0" y="0" font-size="17.22" textLength="93.16" lengthAdjust="spacingAndGlyphs" fill="#333333" stroke="#333333" stroke-width="0.55" font-family='"Liberation Sans", Arial, sans-serif'>Amount (ng)</text>
<line x1="685.1" y1="1020" x2="685.1" y2="1029.4" stroke="#555" stroke-width="1.5" stroke-linecap="butt"/>
<line x1="679.85" y1="1020" x2="690.35" y2="1020" stroke="#555" stroke-width="1.6" stroke-linecap="butt"/>
<line x1="685.1" y1="1064.4" x2="685.1" y2="1066" stroke="#555" stroke-width="1.5" stroke-linecap="butt"/>
<line x1="679.85" y1="1066" x2="690.35" y2="1066" stroke="#555" stroke-width="1.6" stroke-linecap="butt"/>
<rect x="674.1" y="1029.8" width="22" height="34.2" fill="#d3d3d3" stroke="#6e6e6e" stroke-width="1.4" rx="0.8"/>
<line x1="674.3" y1="1047.6" x2="695.9" y2="1047.6" stroke="#1c1c1c" stroke-width="2.8" stroke-linecap="butt"/>
<line x1="769.4" y1="1063" x2="769.4" y2="1064" stroke="#3a3a3a" stroke-width="1.5" stroke-linecap="butt"/>
<line x1="764.15" y1="1063" x2="774.65" y2="1063" stroke="#3a3a3a" stroke-width="1.6" stroke-linecap="butt"/>
<line x1="769.4" y1="1068" x2="769.4" y2="1069" stroke="#3a3a3a" stroke-width="1.5" stroke-linecap="butt"/>
<line x1="764.15" y1="1069" x2="774.65" y2="1069" stroke="#3a3a3a" stroke-width="1.6" stroke-linecap="butt"/>
<rect x="758.4" y="1064" width="22" height="4" fill="#9c9c9c" stroke="none"/>
<line x1="760.3" y1="1064" x2="760.3" y2="1068" stroke="#cfcfcf" stroke-width="1" stroke-linecap="butt"/>
<line x1="762.15" y1="1064" x2="762.15" y2="1068" stroke="#6f6f6f" stroke-width="1" stroke-linecap="butt"/>
<line x1="764" y1="1064" x2="764" y2="1068" stroke="#cfcfcf" stroke-width="1" stroke-linecap="butt"/>
<line x1="765.85" y1="1064" x2="765.85" y2="1068" stroke="#6f6f6f" stroke-width="1" stroke-linecap="butt"/>
<line x1="767.7" y1="1064" x2="767.7" y2="1068" stroke="#cfcfcf" stroke-width="1" stroke-linecap="butt"/>
<line x1="769.55" y1="1064" x2="769.55" y2="1068" stroke="#6f6f6f" stroke-width="1" stroke-linecap="butt"/>
<line x1="771.4" y1="1064" x2="771.4" y2="1068" stroke="#cfcfcf" stroke-width="1" stroke-linecap="butt"/>
<line x1="773.25" y1="1064" x2="773.25" y2="1068" stroke="#6f6f6f" stroke-width="1" stroke-linecap="butt"/>
<line x1="775.1" y1="1064" x2="775.1" y2="1068" stroke="#cfcfcf" stroke-width="1" stroke-linecap="butt"/>
<line x1="776.95" y1="1064" x2="776.95" y2="1068" stroke="#6f6f6f" stroke-width="1" stroke-linecap="butt"/>
<line x1="778.8" y1="1064" x2="778.8" y2="1068" stroke="#cfcfcf" stroke-width="1" stroke-linecap="butt"/>
<rect x="758.9" y="1064.4" width="21" height="3.2" fill="none" stroke="#4a4a4a" stroke-width="1.4" rx="0.8"/>
<line x1="759.1" y1="1066" x2="779.7" y2="1066" stroke="#1c1c1c" stroke-width="2.8" stroke-linecap="butt"/>
<line x1="914.6" y1="850.4" x2="914.6" y2="910.4" stroke="#555" stroke-width="1.5" stroke-linecap="butt"/>
<line x1="909.35" y1="850.4" x2="919.85" y2="850.4" stroke="#555" stroke-width="1.6" stroke-linecap="butt"/>
<line x1="914.6" y1="987" x2="914.6" y2="1027" stroke="#555" stroke-width="1.5" stroke-linecap="butt"/>
<line x1="909.35" y1="1027" x2="919.85" y2="1027" stroke="#555" stroke-width="1.6" stroke-linecap="butt"/>
<rect x="904.1" y="910.8" width="21" height="75.8" fill="#d3d3d3" stroke="#6e6e6e" stroke-width="1.4" rx="0.8"/>
<line x1="904.3" y1="953.6" x2="924.9" y2="953.6" stroke="#1c1c1c" stroke-width="2.8" stroke-linecap="butt"/>
<line x1="998.8" y1="1043.6" x2="998.8" y2="1047.6" stroke="#3a3a3a" stroke-width="1.5" stroke-linecap="butt"/>
<line x1="993.55" y1="1047.6" x2="1004.05" y2="1047.6" stroke="#3a3a3a" stroke-width="1.6" stroke-linecap="butt"/>
<rect x="988" y="982" width="21.6" height="61.6" fill="#9c9c9c" stroke="none"/>
<line x1="989.9" y1="982" x2="989.9" y2="1043.6" stroke="#cfcfcf" stroke-width="1" stroke-linecap="butt"/>
<line x1="991.75" y1="982" x2="991.75" y2="1043.6" stroke="#6f6f6f" stroke-width="1" stroke-linecap="butt"/>
<line x1="993.6" y1="982" x2="993.6" y2="1043.6" stroke="#cfcfcf" stroke-width="1" stroke-linecap="butt"/>
<line x1="995.45" y1="982" x2="995.45" y2="1043.6" stroke="#6f6f6f" stroke-width="1" stroke-linecap="butt"/>
<line x1="997.3" y1="982" x2="997.3" y2="1043.6" stroke="#cfcfcf" stroke-width="1" stroke-linecap="butt"/>
<line x1="999.15" y1="982" x2="999.15" y2="1043.6" stroke="#6f6f6f" stroke-width="1" stroke-linecap="butt"/>
<line x1="1001" y1="982" x2="1001" y2="1043.6" stroke="#cfcfcf" stroke-width="1" stroke-linecap="butt"/>
<line x1="1002.85" y1="982" x2="1002.85" y2="1043.6" stroke="#6f6f6f" stroke-width="1" stroke-linecap="butt"/>
<line x1="1004.7" y1="982" x2="1004.7" y2="1043.6" stroke="#cfcfcf" stroke-width="1" stroke-linecap="butt"/>
<line x1="1006.55" y1="982" x2="1006.55" y2="1043.6" stroke="#6f6f6f" stroke-width="1" stroke-linecap="butt"/>
<rect x="988.5" y="982.4" width="20.6" height="60.8" fill="none" stroke="#4a4a4a" stroke-width="1.4" rx="0.8"/>
<line x1="988.7" y1="1009" x2="1008.9" y2="1009" stroke="#1c1c1c" stroke-width="2.8" stroke-linecap="butt"/>
<circle cx="684.6" cy="897" r="4.6" fill="#d3d3d3" stroke="#555" stroke-width="1.5"/>
<circle cx="769.4" cy="1048.4" r="4.6" fill="#9a9a9a" stroke="#444" stroke-width="1.5"/>
<line x1="769.4" y1="1044.8" x2="769.4" y2="1052" stroke="#555" stroke-width="1" stroke-linecap="butt"/>
<path d="M735.4 790.5 V770.6 H955 V790.5" fill="none" stroke="#4a4a4a" stroke-width="2.1" stroke-linejoin="round"/>
<path d="M695.4 844 V822.6 H776.6 V844" fill="none" stroke="#4a4a4a" stroke-width="2.1" stroke-linejoin="round"/>
<path d="M914 844 V822.6 H995 V844" fill="none" stroke="#4a4a4a" stroke-width="2.1" stroke-linejoin="round"/>
<text x="836.83" y="769.83" font-size="18.7" letter-spacing="3.95" fill="#1e1e1e" stroke="#1e1e1e" stroke-width="0.9" stroke-linejoin="round" font-family='"DejaVu Sans", sans-serif'>*</text>
<text x="723.43" y="821.44" font-size="20.87" letter-spacing="2.87" fill="#1e1e1e" stroke="#1e1e1e" stroke-width="0.9" stroke-linejoin="round" font-family='"DejaVu Sans", sans-serif'>**</text>
<text x="941.33" y="821.44" font-size="20.87" letter-spacing="2.87" fill="#1e1e1e" stroke="#1e1e1e" stroke-width="0.9" stroke-linejoin="round" font-family='"DejaVu Sans", sans-serif'>**</text>
<text x="740.12" y="671.4" font-size="22.6" textLength="137.98" lengthAdjust="spacingAndGlyphs" fill="#1e1e1e" stroke="#1e1e1e" stroke-width="0.45" font-family='"Liberation Sans", Arial, sans-serif'>Testosterone</text>
<text x="607.99" y="666.74" font-size="36.19" textLength="19.65" lengthAdjust="spacingAndGlyphs" fill="#1e1e1e" stroke="#1e1e1e" stroke-width="0.7" font-family='"Liberation Sans", Arial, sans-serif'>d</text>
<line x1="1204" y1="747" x2="1204" y2="1075.6" stroke="#c2c2c2" stroke-width="2.2" stroke-linecap="butt"/>
<line x1="1204" y1="1075.6" x2="1647" y2="1075.6" stroke="#c2c2c2" stroke-width="2.2" stroke-linecap="butt"/>
<line x1="1191.6" y1="1075.6" x2="1203.4" y2="1075.6" stroke="#747474" stroke-width="1.9" stroke-linecap="butt"/>
<text x="1181.94" y="1084.7" font-size="17.8" textLength="9.9" lengthAdjust="spacingAndGlyphs" fill="#333333" stroke="#333333" stroke-width="0.55" font-family='"Liberation Sans", Arial, sans-serif'>0</text>
<line x1="1191.6" y1="1015" x2="1203.4" y2="1015" stroke="#747474" stroke-width="1.9" stroke-linecap="butt"/>
<text x="1182.03" y="1024.1" font-size="17.8" textLength="9.9" lengthAdjust="spacingAndGlyphs" fill="#333333" stroke="#333333" stroke-width="0.55" font-family='"Liberation Sans", Arial, sans-serif'>5</text>
<line x1="1191.6" y1="954.4" x2="1203.4" y2="954.4" stroke="#747474" stroke-width="1.9" stroke-linecap="butt"/>
<text x="1172.06" y="963.5" font-size="17.8" textLength="19.8" lengthAdjust="spacingAndGlyphs" fill="#333333" stroke="#333333" stroke-width="0.55" font-family='"Liberation Sans", Arial, sans-serif'>10</text>
<line x1="1191.6" y1="894.4" x2="1203.4" y2="894.4" stroke="#747474" stroke-width="1.9" stroke-linecap="butt"/>
<text x="1172.15" y="903.5" font-size="17.8" textLength="19.8" lengthAdjust="spacingAndGlyphs" fill="#333333" stroke="#333333" stroke-width="0.55" font-family='"Liberation Sans", Arial, sans-serif'>15</text>
<line x1="1191.6" y1="833.6" x2="1203.4" y2="833.6" stroke="#747474" stroke-width="1.9" stroke-linecap="butt"/>
<text x="1172.06" y="842.7" font-size="17.8" textLength="19.8" lengthAdjust="spacingAndGlyphs" fill="#333333" stroke="#333333" stroke-width="0.55" font-family='"Liberation Sans", Arial, sans-serif'>20</text>
<line x1="1191.6" y1="773" x2="1203.4" y2="773" stroke="#747474" stroke-width="1.9" stroke-linecap="butt"/>
<text x="1172.15" y="782.1" font-size="17.8" textLength="19.8" lengthAdjust="spacingAndGlyphs" fill="#333333" stroke="#333333" stroke-width="0.55" font-family='"Liberation Sans", Arial, sans-serif'>25</text>
<line x1="1311" y1="1076.2" x2="1311" y2="1086.6" stroke="#747474" stroke-width="1.9" stroke-linecap="butt"/>
<line x1="1540" y1="1076.2" x2="1540" y2="1086.6" stroke="#747474" stroke-width="1.9" stroke-linecap="butt"/>
<text x="1292.97" y="1105.6" font-size="18" textLength="34.79" lengthAdjust="spacingAndGlyphs" fill="#333333" stroke="#333333" stroke-width="0.55" font-family='"Liberation Sans", Arial, sans-serif'>First</text>
<text x="1510.2" y="1105.6" font-size="18" textLength="59.98" lengthAdjust="spacingAndGlyphs" fill="#333333" stroke="#333333" stroke-width="0.55" font-family='"Liberation Sans", Arial, sans-serif'>Second</text>
<text x="1376.2" y="1134" font-size="17.5" textLength="97.13" lengthAdjust="spacingAndGlyphs" fill="#333333" stroke="#333333" stroke-width="0.55" font-family='"Liberation Sans", Arial, sans-serif'>Laying order</text>
<text transform="translate(1160.47 953) rotate(-90)" x="0" y="0" font-size="17.75" textLength="92.05" lengthAdjust="spacingAndGlyphs" fill="#333333" stroke="#333333" stroke-width="0.55" font-family='"Liberation Sans", Arial, sans-serif'>Amount (ng)</text>
<line x1="1268.2" y1="916" x2="1268.2" y2="954.5" stroke="#555" stroke-width="1.5" stroke-linecap="butt"/>
<line x1="1262.95" y1="916" x2="1273.45" y2="916" stroke="#555" stroke-width="1.6" stroke-linecap="butt"/>
<line x1="1268.2" y1="1028" x2="1268.2" y2="1037.4" stroke="#555" stroke-width="1.5" stroke-linecap="butt"/>
<line x1="1262.95" y1="1037.4" x2="1273.45" y2="1037.4" stroke="#555" stroke-width="1.6" stroke-linecap="butt"/>
<rect x="1257.9" y="954.9" width="20.6" height="72.7" fill="#d3d3d3" stroke="#6e6e6e" stroke-width="1.4" rx="0.8"/>
<line x1="1258.1" y1="1015.4" x2="1278.3" y2="1015.4" stroke="#1c1c1c" stroke-width="2.8" stroke-linecap="butt"/>
<line x1="1353.2" y1="979" x2="1353.2" y2="980" stroke="#3a3a3a" stroke-width="1.5" stroke-linecap="butt"/>
<line x1="1347.95" y1="979" x2="1358.45" y2="979" stroke="#3a3a3a" stroke-width="1.6" stroke-linecap="butt"/>
<line x1="1353.2" y1="988" x2="1353.2" y2="993" stroke="#3a3a3a" stroke-width="1.5" stroke-linecap="butt"/>
<line x1="1347.95" y1="993" x2="1358.45" y2="993" stroke="#3a3a3a" stroke-width="1.6" stroke-linecap="butt"/>
<rect x="1342.4" y="980" width="21.6" height="8" fill="#9c9c9c" stroke="none"/>
<line x1="1344.3" y1="980" x2="1344.3" y2="988" stroke="#cfcfcf" stroke-width="1" stroke-linecap="butt"/>
<line x1="1346.15" y1="980" x2="1346.15" y2="988" stroke="#6f6f6f" stroke-width="1" stroke-linecap="butt"/>
<line x1="1348" y1="980" x2="1348" y2="988" stroke="#cfcfcf" stroke-width="1" stroke-linecap="butt"/>
<line x1="1349.85" y1="980" x2="1349.85" y2="988" stroke="#6f6f6f" stroke-width="1" stroke-linecap="butt"/>
<line x1="1351.7" y1="980" x2="1351.7" y2="988" stroke="#cfcfcf" stroke-width="1" stroke-linecap="butt"/>
<line x1="1353.55" y1="980" x2="1353.55" y2="988" stroke="#6f6f6f" stroke-width="1" stroke-linecap="butt"/>
<line x1="1355.4" y1="980" x2="1355.4" y2="988" stroke="#cfcfcf" stroke-width="1" stroke-linecap="butt"/>
<line x1="1357.25" y1="980" x2="1357.25" y2="988" stroke="#6f6f6f" stroke-width="1" stroke-linecap="butt"/>
<line x1="1359.1" y1="980" x2="1359.1" y2="988" stroke="#cfcfcf" stroke-width="1" stroke-linecap="butt"/>
<line x1="1360.95" y1="980" x2="1360.95" y2="988" stroke="#6f6f6f" stroke-width="1" stroke-linecap="butt"/>
<line x1="1362.8" y1="980" x2="1362.8" y2="988" stroke="#cfcfcf" stroke-width="1" stroke-linecap="butt"/>
<rect x="1342.9" y="980.4" width="20.6" height="7.2" fill="none" stroke="#4a4a4a" stroke-width="1.4" rx="0.8"/>
<line x1="1343.1" y1="981" x2="1363.3" y2="981" stroke="#1c1c1c" stroke-width="2.8" stroke-linecap="butt"/>
<line x1="1497.6" y1="807.6" x2="1497.6" y2="920.6" stroke="#555" stroke-width="1.5" stroke-linecap="butt"/>
<line x1="1492.35" y1="807.6" x2="1502.85" y2="807.6" stroke="#555" stroke-width="1.6" stroke-linecap="butt"/>
<line x1="1497.6" y1="997" x2="1497.6" y2="1033.6" stroke="#555" stroke-width="1.5" stroke-linecap="butt"/>
<line x1="1492.35" y1="1033.6" x2="1502.85" y2="1033.6" stroke="#555" stroke-width="1.6" stroke-linecap="butt"/>
<rect x="1487.1" y="921" width="21" height="75.6" fill="#d3d3d3" stroke="#6e6e6e" stroke-width="1.4" rx="0.8"/>
<line x1="1487.3" y1="976.6" x2="1507.9" y2="976.6" stroke="#1c1c1c" stroke-width="2.8" stroke-linecap="butt"/>
<line x1="1582.4" y1="975.4" x2="1582.4" y2="982" stroke="#3a3a3a" stroke-width="1.5" stroke-linecap="butt"/>
<line x1="1577.15" y1="975.4" x2="1587.65" y2="975.4" stroke="#3a3a3a" stroke-width="1.6" stroke-linecap="butt"/>
<line x1="1582.4" y1="1000" x2="1582.4" y2="1006.6" stroke="#3a3a3a" stroke-width="1.5" stroke-linecap="butt"/>
<line x1="1577.15" y1="1006.6" x2="1587.65" y2="1006.6" stroke="#3a3a3a" stroke-width="1.6" stroke-linecap="butt"/>
<rect x="1571.4" y="982" width="22" height="18" fill="#9c9c9c" stroke="none"/>
<line x1="1573.3" y1="982" x2="1573.3" y2="1000" stroke="#cfcfcf" stroke-width="1" stroke-linecap="butt"/>
<line x1="1575.15" y1="982" x2="1575.15" y2="1000" stroke="#6f6f6f" stroke-width="1" stroke-linecap="butt"/>
<line x1="1577" y1="982" x2="1577" y2="1000" stroke="#cfcfcf" stroke-width="1" stroke-linecap="butt"/>
<line x1="1578.85" y1="982" x2="1578.85" y2="1000" stroke="#6f6f6f" stroke-width="1" stroke-linecap="butt"/>
<line x1="1580.7" y1="982" x2="1580.7" y2="1000" stroke="#cfcfcf" stroke-width="1" stroke-linecap="butt"/>
<line x1="1582.55" y1="982" x2="1582.55" y2="1000" stroke="#6f6f6f" stroke-width="1" stroke-linecap="butt"/>
<line x1="1584.4" y1="982" x2="1584.4" y2="1000" stroke="#cfcfcf" stroke-width="1" stroke-linecap="butt"/>
<line x1="1586.25" y1="982" x2="1586.25" y2="1000" stroke="#6f6f6f" stroke-width="1" stroke-linecap="butt"/>
<line x1="1588.1" y1="982" x2="1588.1" y2="1000" stroke="#cfcfcf" stroke-width="1" stroke-linecap="butt"/>
<line x1="1589.95" y1="982" x2="1589.95" y2="1000" stroke="#6f6f6f" stroke-width="1" stroke-linecap="butt"/>
<line x1="1591.8" y1="982" x2="1591.8" y2="1000" stroke="#cfcfcf" stroke-width="1" stroke-linecap="butt"/>
<rect x="1571.9" y="982.4" width="21" height="17.2" fill="none" stroke="#4a4a4a" stroke-width="1.4" rx="0.8"/>
<line x1="1572.1" y1="986.6" x2="1592.7" y2="986.6" stroke="#1c1c1c" stroke-width="2.8" stroke-linecap="butt"/>
<circle cx="1353" cy="940" r="4.6" fill="#9a9a9a" stroke="#444" stroke-width="1.5"/>
<line x1="1353" y1="936.4" x2="1353" y2="943.6" stroke="#555" stroke-width="1" stroke-linecap="butt"/>
<path d="M1318.6 748.4 V728 H1538.4 V748.4" fill="none" stroke="#4a4a4a" stroke-width="2.1" stroke-linejoin="round"/>
<path d="M1278.6 801.6 V780.4 H1360 V801.6" fill="none" stroke="#4a4a4a" stroke-width="2.1" stroke-linejoin="round"/>
<path d="M1497.6 801.6 V780.4 H1578.6 V801.6" fill="none" stroke="#4a4a4a" stroke-width="2.1" stroke-linejoin="round"/>
<text x="1387.41" y="718" font-size="17.5" textLength="76.78" lengthAdjust="spacingAndGlyphs" fill="#1e1e1e" stroke="#1e1e1e" stroke-width="0.45" font-family='"Liberation Sans", Arial, sans-serif'>p = 0.058</text>
<text x="1305.5" y="775.1" font-size="23.5" textLength="24.33" lengthAdjust="spacingAndGlyphs" fill="#1e1e1e" stroke="#1e1e1e" stroke-width="0.45" font-family='"Liberation Sans", Arial, sans-serif'>ns</text>
<text x="1522.48" y="775.1" font-size="23.5" textLength="24.77" lengthAdjust="spacingAndGlyphs" fill="#1e1e1e" stroke="#1e1e1e" stroke-width="0.45" font-family='"Liberation Sans", Arial, sans-serif'>ns</text>
<text x="1258.39" y="671.6" font-size="22.6" textLength="264.75" lengthAdjust="spacingAndGlyphs" fill="#1e1e1e" stroke="#1e1e1e" stroke-width="0.45" font-family='"Liberation Sans", Arial, sans-serif'>Conjugated testosterone</text>
<text x="1191" y="667.74" font-size="36" textLength="19.41" lengthAdjust="spacingAndGlyphs" fill="#1e1e1e" stroke="#1e1e1e" stroke-width="0.7" font-family='"Liberation Sans", Arial, sans-serif'>e</text>
<line x1="58" y1="1378.4" x2="58" y2="1713" stroke="#c2c2c2" stroke-width="2.2" stroke-linecap="butt"/>
<line x1="58" y1="1713" x2="501" y2="1713" stroke="#c2c2c2" stroke-width="2.2" stroke-linecap="butt"/>
<line x1="46.6" y1="1713" x2="57.4" y2="1713" stroke="#747474" stroke-width="1.9" stroke-linecap="butt"/>
<text x="36.94" y="1722.1" font-size="17.8" textLength="9.9" lengthAdjust="spacingAndGlyphs" fill="#333333" stroke="#333333" stroke-width="0.55" font-family='"Liberation Sans", Arial, sans-serif'>0</text>
<line x1="46.6" y1="1612.6" x2="57.4" y2="1612.6" stroke="#747474" stroke-width="1.9" stroke-linecap="butt"/>
<text x="37.03" y="1621.7" font-size="17.8" textLength="9.9" lengthAdjust="spacingAndGlyphs" fill="#333333" stroke="#333333" stroke-width="0.55" font-family='"Liberation Sans", Arial, sans-serif'>5</text>
<line x1="46.6" y1="1512" x2="57.4" y2="1512" stroke="#747474" stroke-width="1.9" stroke-linecap="butt"/>
<text x="27.07" y="1521.1" font-size="17.8" textLength="19.8" lengthAdjust="spacingAndGlyphs" fill="#333333" stroke="#333333" stroke-width="0.55" font-family='"Liberation Sans", Arial, sans-serif'>10</text>
<line x1="46.6" y1="1411" x2="57.4" y2="1411" stroke="#747474" stroke-width="1.9" stroke-linecap="butt"/>
<text x="27.15" y="1420.1" font-size="17.8" textLength="19.8" lengthAdjust="spacingAndGlyphs" fill="#333333" stroke="#333333" stroke-width="0.55" font-family='"Liberation Sans", Arial, sans-serif'>15</text>
<line x1="164.6" y1="1713.6" x2="164.6" y2="1724" stroke="#747474" stroke-width="1.9" stroke-linecap="butt"/>
<line x1="394" y1="1713.6" x2="394" y2="1724" stroke="#747474" stroke-width="1.9" stroke-linecap="butt"/>
<text x="146.95" y="1743" font-size="18" textLength="35.21" lengthAdjust="spacingAndGlyphs" fill="#333333" stroke="#333333" stroke-width="0.55" font-family='"Liberation Sans", Arial, sans-serif'>First</text>
<text x="364.61" y="1743" font-size="18" textLength="59.56" lengthAdjust="spacingAndGlyphs" fill="#333333" stroke="#333333" stroke-width="0.55" font-family='"Liberation Sans", Arial, sans-serif'>Second</text>
<text x="230.61" y="1771" font-size="17.5" textLength="96.73" lengthAdjust="spacingAndGlyphs" fill="#333333" stroke="#333333" stroke-width="0.55" font-family='"Liberation Sans", Arial, sans-serif'>Laying order</text>
<text transform="translate(15.47 1591) rotate(-90)" x="0" y="0" font-size="17.75" textLength="93.06" lengthAdjust="spacingAndGlyphs" fill="#333333" stroke="#333333" stroke-width="0.55" font-family='"Liberation Sans", Arial, sans-serif'>Amount (ng)</text>
<line x1="123" y1="1519.6" x2="123" y2="1575" stroke="#555" stroke-width="1.5" stroke-linecap="butt"/>
<line x1="117.75" y1="1519.6" x2="128.25" y2="1519.6" stroke="#555" stroke-width="1.6" stroke-linecap="butt"/>
<line x1="123" y1="1624.6" x2="123" y2="1634" stroke="#555" stroke-width="1.5" stroke-linecap="butt"/>
<line x1="117.75" y1="1634" x2="128.25" y2="1634" stroke="#555" stroke-width="1.6" stroke-linecap="butt"/>
<rect x="112.9" y="1575.4" width="20.2" height="48.8" fill="#d3d3d3" stroke="#6e6e6e" stroke-width="1.4" rx="0.8"/>
<line x1="113.1" y1="1601.6" x2="132.9" y2="1601.6" stroke="#1c1c1c" stroke-width="2.8" stroke-linecap="butt"/>
<line x1="207.5" y1="1553" x2="207.5" y2="1563.6" stroke="#3a3a3a" stroke-width="1.5" stroke-linecap="butt"/>
<line x1="202.25" y1="1553" x2="212.75" y2="1553" stroke="#3a3a3a" stroke-width="1.6" stroke-linecap="butt"/>
<line x1="207.5" y1="1591" x2="207.5" y2="1602.6" stroke="#3a3a3a" stroke-width="1.5" stroke-linecap="butt"/>
<line x1="202.25" y1="1602.6" x2="212.75" y2="1602.6" stroke="#3a3a3a" stroke-width="1.6" stroke-linecap="butt"/>
<rect x="197" y="1563.6" width="21" height="27.4" fill="#9c9c9c" stroke="none"/>
<line x1="198.9" y1="1563.6" x2="198.9" y2="1591" stroke="#cfcfcf" stroke-width="1" stroke-linecap="butt"/>
<line x1="200.75" y1="1563.6" x2="200.75" y2="1591" stroke="#6f6f6f" stroke-width="1" stroke-linecap="butt"/>
<line x1="202.6" y1="1563.6" x2="202.6" y2="1591" stroke="#cfcfcf" stroke-width="1" stroke-linecap="butt"/>
<line x1="204.45" y1="1563.6" x2="204.45" y2="1591" stroke="#6f6f6f" stroke-width="1" stroke-linecap="butt"/>
<line x1="206.3" y1="1563.6" x2="206.3" y2="1591" stroke="#cfcfcf" stroke-width="1" stroke-linecap="butt"/>
<line x1="208.15" y1="1563.6" x2="208.15" y2="1591" stroke="#6f6f6f" stroke-width="1" stroke-linecap="butt"/>
<line x1="210" y1="1563.6" x2="210" y2="1591" stroke="#cfcfcf" stroke-width="1" stroke-linecap="butt"/>
<line x1="211.85" y1="1563.6" x2="211.85" y2="1591" stroke="#6f6f6f" stroke-width="1" stroke-linecap="butt"/>
<line x1="213.7" y1="1563.6" x2="213.7" y2="1591" stroke="#cfcfcf" stroke-width="1" stroke-linecap="butt"/>
<line x1="215.55" y1="1563.6" x2="215.55" y2="1591" stroke="#6f6f6f" stroke-width="1" stroke-linecap="butt"/>
<rect x="197.5" y="1564" width="20" height="26.6" fill="none" stroke="#4a4a4a" stroke-width="1.4" rx="0.8"/>
<line x1="197.7" y1="1585.4" x2="217.3" y2="1585.4" stroke="#1c1c1c" stroke-width="2.8" stroke-linecap="butt"/>
<line x1="352" y1="1423.6" x2="352" y2="1528.4" stroke="#555" stroke-width="1.5" stroke-linecap="butt"/>
<line x1="346.75" y1="1423.6" x2="357.25" y2="1423.6" stroke="#555" stroke-width="1.6" stroke-linecap="butt"/>
<line x1="352" y1="1644" x2="352" y2="1689" stroke="#555" stroke-width="1.5" stroke-linecap="butt"/>
<line x1="346.75" y1="1689" x2="357.25" y2="1689" stroke="#555" stroke-width="1.6" stroke-linecap="butt"/>
<rect x="341.5" y="1528.8" width="21" height="114.8" fill="#d3d3d3" stroke="#6e6e6e" stroke-width="1.4" rx="0.8"/>
<line x1="341.7" y1="1588" x2="362.3" y2="1588" stroke="#1c1c1c" stroke-width="2.8" stroke-linecap="butt"/>
<line x1="436.8" y1="1514" x2="436.8" y2="1540.4" stroke="#3a3a3a" stroke-width="1.5" stroke-linecap="butt"/>
<line x1="431.55" y1="1514" x2="442.05" y2="1514" stroke="#3a3a3a" stroke-width="1.6" stroke-linecap="butt"/>
<line x1="436.8" y1="1578" x2="436.8" y2="1588" stroke="#3a3a3a" stroke-width="1.5" stroke-linecap="butt"/>
<line x1="431.55" y1="1588" x2="442.05" y2="1588" stroke="#3a3a3a" stroke-width="1.6" stroke-linecap="butt"/>
<rect x="426" y="1540.4" width="21.6" height="37.6" fill="#9c9c9c" stroke="none"/>
<line x1="427.9" y1="1540.4" x2="427.9" y2="1578" stroke="#cfcfcf" stroke-width="1" stroke-linecap="butt"/>
<line x1="429.75" y1="1540.4" x2="429.75" y2="1578" stroke="#6f6f6f" stroke-width="1" stroke-linecap="butt"/>
<line x1="431.6" y1="1540.4" x2="431.6" y2="1578" stroke="#cfcfcf" stroke-width="1" stroke-linecap="butt"/>
<line x1="433.45" y1="1540.4" x2="433.45" y2="1578" stroke="#6f6f6f" stroke-width="1" stroke-linecap="butt"/>
<line x1="435.3" y1="1540.4" x2="435.3" y2="1578" stroke="#cfcfcf" stroke-width="1" stroke-linecap="butt"/>
<line x1="437.15" y1="1540.4" x2="437.15" y2="1578" stroke="#6f6f6f" stroke-width="1" stroke-linecap="butt"/>
<line x1="439" y1="1540.4" x2="439" y2="1578" stroke="#cfcfcf" stroke-width="1" stroke-linecap="butt"/>
<line x1="440.85" y1="1540.4" x2="440.85" y2="1578" stroke="#6f6f6f" stroke-width="1" stroke-linecap="butt"/>
<line x1="442.7" y1="1540.4" x2="442.7" y2="1578" stroke="#cfcfcf" stroke-width="1" stroke-linecap="butt"/>
<line x1="444.55" y1="1540.4" x2="444.55" y2="1578" stroke="#6f6f6f" stroke-width="1" stroke-linecap="butt"/>
<rect x="426.5" y="1540.8" width="20.6" height="36.8" fill="none" stroke="#4a4a4a" stroke-width="1.4" rx="0.8"/>
<line x1="426.7" y1="1558" x2="446.9" y2="1558" stroke="#1c1c1c" stroke-width="2.8" stroke-linecap="butt"/>
<path d="M173.4 1363.6 V1343.6 H392.4 V1363.6" fill="none" stroke="#4a4a4a" stroke-width="2.1" stroke-linejoin="round"/>
<path d="M132.4 1417 V1396 H214 V1417" fill="none" stroke="#4a4a4a" stroke-width="2.1" stroke-linejoin="round"/>
<path d="M352 1417 V1396 H433 V1417" fill="none" stroke="#4a4a4a" stroke-width="2.1" stroke-linejoin="round"/>
<text x="269.5" y="1339.5" font-size="23.5" textLength="24.33" lengthAdjust="spacingAndGlyphs" fill="#1e1e1e" stroke="#1e1e1e" stroke-width="0.45" font-family='"Liberation Sans", Arial, sans-serif'>ns</text>
<text x="159.5" y="1390.5" font-size="23.5" textLength="24.33" lengthAdjust="spacingAndGlyphs" fill="#1e1e1e" stroke="#1e1e1e" stroke-width="0.45" font-family='"Liberation Sans", Arial, sans-serif'>ns</text>
<text x="377.12" y="1390.5" font-size="23.5" textLength="24.11" lengthAdjust="spacingAndGlyphs" fill="#1e1e1e" stroke="#1e1e1e" stroke-width="0.45" font-family='"Liberation Sans", Arial, sans-serif'>ns</text>
<text x="204.7" y="1308.6" font-size="22.6" textLength="82.01" lengthAdjust="spacingAndGlyphs" fill="#1e1e1e" stroke="#1e1e1e" stroke-width="0.45" font-family='"Liberation Sans", Arial, sans-serif'>Estrone</text>
<text x="45.76" y="1304.6" font-size="37.1" textLength="11.85" lengthAdjust="spacingAndGlyphs" fill="#1e1e1e" stroke="#1e1e1e" stroke-width="0.7" font-family='"Liberation Sans", Arial, sans-serif'>f</text>
<line x1="610.6" y1="1378" x2="610.6" y2="1713" stroke="#c2c2c2" stroke-width="2.2" stroke-linecap="butt"/>
<line x1="610.6" y1="1713" x2="1063" y2="1713" stroke="#c2c2c2" stroke-width="2.2" stroke-linecap="butt"/>
<line x1="599.2" y1="1713" x2="610" y2="1713" stroke="#747474" stroke-width="1.9" stroke-linecap="butt"/>
<text x="590.27" y="1721.3" font-size="16.4" textLength="9.12" lengthAdjust="spacingAndGlyphs" fill="#333333" stroke="#333333" stroke-width="0.55" font-family='"Liberation Sans", Arial, sans-serif'>0</text>
<line x1="599.2" y1="1637.6" x2="610" y2="1637.6" stroke="#747474" stroke-width="1.9" stroke-linecap="butt"/>
<text x="590.44" y="1645.9" font-size="16.4" textLength="9.12" lengthAdjust="spacingAndGlyphs" fill="#333333" stroke="#333333" stroke-width="0.55" font-family='"Liberation Sans", Arial, sans-serif'>1</text>
<line x1="599.2" y1="1562" x2="610" y2="1562" stroke="#747474" stroke-width="1.9" stroke-linecap="butt"/>
<text x="590.52" y="1570.3" font-size="16.4" textLength="9.12" lengthAdjust="spacingAndGlyphs" fill="#333333" stroke="#333333" stroke-width="0.55" font-family='"Liberation Sans", Arial, sans-serif'>2</text>
<line x1="599.2" y1="1486.6" x2="610" y2="1486.6" stroke="#747474" stroke-width="1.9" stroke-linecap="butt"/>
<text x="590.35" y="1494.9" font-size="16.4" textLength="9.12" lengthAdjust="spacingAndGlyphs" fill="#333333" stroke="#333333" stroke-width="0.55" font-family='"Liberation Sans", Arial, sans-serif'>3</text>
<line x1="599.2" y1="1411" x2="610" y2="1411" stroke="#747474" stroke-width="1.9" stroke-linecap="butt"/>
<text x="590.19" y="1419.3" font-size="16.4" textLength="9.12" lengthAdjust="spacingAndGlyphs" fill="#333333" stroke="#333333" stroke-width="0.55" font-family='"Liberation Sans", Arial, sans-serif'>4</text>
<line x1="719.4" y1="1713.6" x2="719.4" y2="1724" stroke="#747474" stroke-width="1.9" stroke-linecap="butt"/>
<line x1="953.6" y1="1713.6" x2="953.6" y2="1724" stroke="#747474" stroke-width="1.9" stroke-linecap="butt"/>
<text x="702.16" y="1743" font-size="18" textLength="35" lengthAdjust="spacingAndGlyphs" fill="#333333" stroke="#333333" stroke-width="0.55" font-family='"Liberation Sans", Arial, sans-serif'>First</text>
<text x="924.8" y="1743" font-size="18" textLength="59.98" lengthAdjust="spacingAndGlyphs" fill="#333333" stroke="#333333" stroke-width="0.55" font-family='"Liberation Sans", Arial, sans-serif'>Second</text>
<text x="787.61" y="1771" font-size="17.5" textLength="96.73" lengthAdjust="spacingAndGlyphs" fill="#333333" stroke="#333333" stroke-width="0.55" font-family='"Liberation Sans", Arial, sans-serif'>Laying order</text>
<text transform="translate(576.72 1591) rotate(-90)" x="0" y="0" font-size="17.54" textLength="93.06" lengthAdjust="spacingAndGlyphs" fill="#333333" stroke="#333333" stroke-width="0.55" font-family='"Liberation Sans", Arial, sans-serif'>Amount (ng)</text>
<line x1="676.4" y1="1698" x2="676.4" y2="1705.6" stroke="#555" stroke-width="1.5" stroke-linecap="butt"/>
<line x1="671.15" y1="1698" x2="681.65" y2="1698" stroke="#555" stroke-width="1.6" stroke-linecap="butt"/>
<rect x="665.9" y="1706" width="21" height="5.2" fill="#d3d3d3" stroke="#6e6e6e" stroke-width="1.4" rx="0.8"/>
<line x1="666.1" y1="1708.5" x2="686.7" y2="1708.5" stroke="#1c1c1c" stroke-width="2.8" stroke-linecap="butt"/>
<rect x="752" y="1704.4" width="22" height="7.2" fill="#9c9c9c" stroke="none"/>
<line x1="753.9" y1="1704.4" x2="753.9" y2="1711.6" stroke="#cfcfcf" stroke-width="1" stroke-linecap="butt"/>
<line x1="755.75" y1="1704.4" x2="755.75" y2="1711.6" stroke="#6f6f6f" stroke-width="1" stroke-linecap="butt"/>
<line x1="757.6" y1="1704.4" x2="757.6" y2="1711.6" stroke="#cfcfcf" stroke-width="1" stroke-linecap="butt"/>
<line x1="759.45" y1="1704.4" x2="759.45" y2="1711.6" stroke="#6f6f6f" stroke-width="1" stroke-linecap="butt"/>
<line x1="761.3" y1="1704.4" x2="761.3" y2="1711.6" stroke="#cfcfcf" stroke-width="1" stroke-linecap="butt"/>
<line x1="763.15" y1="1704.4" x2="763.15" y2="1711.6" stroke="#6f6f6f" stroke-width="1" stroke-linecap="butt"/>
<line x1="765" y1="1704.4" x2="765" y2="1711.6" stroke="#cfcfcf" stroke-width="1" stroke-linecap="butt"/>
<line x1="766.85" y1="1704.4" x2="766.85" y2="1711.6" stroke="#6f6f6f" stroke-width="1" stroke-linecap="butt"/>
<line x1="768.7" y1="1704.4" x2="768.7" y2="1711.6" stroke="#cfcfcf" stroke-width="1" stroke-linecap="butt"/>
<line x1="770.55" y1="1704.4" x2="770.55" y2="1711.6" stroke="#6f6f6f" stroke-width="1" stroke-linecap="butt"/>
<line x1="772.4" y1="1704.4" x2="772.4" y2="1711.6" stroke="#cfcfcf" stroke-width="1" stroke-linecap="butt"/>
<rect x="752.5" y="1704.8" width="21" height="6.4" fill="none" stroke="#4a4a4a" stroke-width="1.4" rx="0.8"/>
<line x1="752.7" y1="1708" x2="773.3" y2="1708" stroke="#1c1c1c" stroke-width="2.8" stroke-linecap="butt"/>
<line x1="911" y1="1685" x2="911" y2="1700" stroke="#555" stroke-width="1.5" stroke-linecap="butt"/>
<line x1="905.75" y1="1685" x2="916.25" y2="1685" stroke="#555" stroke-width="1.6" stroke-linecap="butt"/>
<rect x="899.9" y="1700.4" width="22.2" height="11.2" fill="#d3d3d3" stroke="#6e6e6e" stroke-width="1.4" rx="0.8"/>
<line x1="900.1" y1="1710.5" x2="921.9" y2="1710.5" stroke="#1c1c1c" stroke-width="2.8" stroke-linecap="butt"/>
<line x1="997.5" y1="1701" x2="997.5" y2="1701.6" stroke="#3a3a3a" stroke-width="1.5" stroke-linecap="butt"/>
<line x1="992.25" y1="1701" x2="1002.75" y2="1701" stroke="#3a3a3a" stroke-width="1.6" stroke-linecap="butt"/>
<rect x="986.4" y="1701.6" width="22.2" height="10.4" fill="#9c9c9c" stroke="none"/>
<line x1="988.3" y1="1701.6" x2="988.3" y2="1712" stroke="#cfcfcf" stroke-width="1" stroke-linecap="butt"/>
<line x1="990.15" y1="1701.6" x2="990.15" y2="1712" stroke="#6f6f6f" stroke-width="1" stroke-linecap="butt"/>
<line x1="992" y1="1701.6" x2="992" y2="1712" stroke="#cfcfcf" stroke-width="1" stroke-linecap="butt"/>
<line x1="993.85" y1="1701.6" x2="993.85" y2="1712" stroke="#6f6f6f" stroke-width="1" stroke-linecap="butt"/>
<line x1="995.7" y1="1701.6" x2="995.7" y2="1712" stroke="#cfcfcf" stroke-width="1" stroke-linecap="butt"/>
<line x1="997.55" y1="1701.6" x2="997.55" y2="1712" stroke="#6f6f6f" stroke-width="1" stroke-linecap="butt"/>
<line x1="999.4" y1="1701.6" x2="999.4" y2="1712" stroke="#cfcfcf" stroke-width="1" stroke-linecap="butt"/>
<line x1="1001.25" y1="1701.6" x2="1001.25" y2="1712" stroke="#6f6f6f" stroke-width="1" stroke-linecap="butt"/>
<line x1="1003.1" y1="1701.6" x2="1003.1" y2="1712" stroke="#cfcfcf" stroke-width="1" stroke-linecap="butt"/>
<line x1="1004.95" y1="1701.6" x2="1004.95" y2="1712" stroke="#6f6f6f" stroke-width="1" stroke-linecap="butt"/>
<line x1="1006.8" y1="1701.6" x2="1006.8" y2="1712" stroke="#cfcfcf" stroke-width="1" stroke-linecap="butt"/>
<rect x="986.9" y="1702" width="21.2" height="9.6" fill="none" stroke="#4a4a4a" stroke-width="1.4" rx="0.8"/>
<line x1="987.1" y1="1706.5" x2="1007.9" y2="1706.5" stroke="#1c1c1c" stroke-width="2.8" stroke-linecap="butt"/>
<circle cx="676.6" cy="1694" r="2.8" fill="#e6e6e6" stroke="#555" stroke-width="1.3"/>
<circle cx="911" cy="1681" r="2.8" fill="#e6e6e6" stroke="#555" stroke-width="1.3"/>
<circle cx="997.4" cy="1426.6" r="4.6" fill="#9a9a9a" stroke="#444" stroke-width="1.5"/>
<line x1="997.4" y1="1423" x2="997.4" y2="1430.2" stroke="#555" stroke-width="1" stroke-linecap="butt"/>
<path d="M733.6 1612.4 V1591.5 H952.4 V1612.4" fill="none" stroke="#4a4a4a" stroke-width="2.1" stroke-linejoin="round"/>
<path d="M692 1665 V1644.2 H774 V1665" fill="none" stroke="#4a4a4a" stroke-width="2.1" stroke-linejoin="round"/>
<path d="M912 1665 V1644.2 H993 V1665" fill="none" stroke="#4a4a4a" stroke-width="2.1" stroke-linejoin="round"/>
<text x="828.5" y="1587.5" font-size="23.5" textLength="24.33" lengthAdjust="spacingAndGlyphs" fill="#1e1e1e" stroke="#1e1e1e" stroke-width="0.45" font-family='"Liberation Sans", Arial, sans-serif'>ns</text>
<text x="719.5" y="1638.5" font-size="23.5" textLength="24.33" lengthAdjust="spacingAndGlyphs" fill="#1e1e1e" stroke="#1e1e1e" stroke-width="0.45" font-family='"Liberation Sans", Arial, sans-serif'>ns</text>
<text x="936.86" y="1639.1" font-size="23.5" textLength="24.99" lengthAdjust="spacingAndGlyphs" fill="#1e1e1e" stroke="#1e1e1e" stroke-width="0.45" font-family='"Liberation Sans", Arial, sans-serif'>ns</text>
<text x="761.47" y="1308.6" font-size="22.6" textLength="93.71" lengthAdjust="spacingAndGlyphs" fill="#1e1e1e" stroke="#1e1e1e" stroke-width="0.45" font-family='"Liberation Sans", Arial, sans-serif'>Estradiol</text>
<text x="606.92" y="1303.91" font-size="35.31" textLength="18.62" lengthAdjust="spacingAndGlyphs" fill="#1e1e1e" stroke="#1e1e1e" stroke-width="0.7" font-family='"Liberation Serif", serif'>g</text>
<line x1="1204" y1="1381" x2="1204" y2="1713" stroke="#c2c2c2" stroke-width="2.2" stroke-linecap="butt"/>
<line x1="1204" y1="1713" x2="1647" y2="1713" stroke="#c2c2c2" stroke-width="2.2" stroke-linecap="butt"/>
<line x1="1191.6" y1="1713" x2="1203.4" y2="1713" stroke="#747474" stroke-width="1.9" stroke-linecap="butt"/>
<text x="1181.94" y="1722.1" font-size="17.8" textLength="9.9" lengthAdjust="spacingAndGlyphs" fill="#333333" stroke="#333333" stroke-width="0.55" font-family='"Liberation Sans", Arial, sans-serif'>0</text>
<line x1="1191.6" y1="1653" x2="1203.4" y2="1653" stroke="#747474" stroke-width="1.9" stroke-linecap="butt"/>
<text x="1182.21" y="1662.1" font-size="17.8" textLength="9.9" lengthAdjust="spacingAndGlyphs" fill="#333333" stroke="#333333" stroke-width="0.55" font-family='"Liberation Sans", Arial, sans-serif'>2</text>
<line x1="1191.6" y1="1592" x2="1203.4" y2="1592" stroke="#747474" stroke-width="1.9" stroke-linecap="butt"/>
<text x="1181.85" y="1601.1" font-size="17.8" textLength="9.9" lengthAdjust="spacingAndGlyphs" fill="#333333" stroke="#333333" stroke-width="0.55" font-family='"Liberation Sans", Arial, sans-serif'>4</text>
<line x1="1191.6" y1="1532" x2="1203.4" y2="1532" stroke="#747474" stroke-width="1.9" stroke-linecap="butt"/>
<text x="1182.03" y="1541.1" font-size="17.8" textLength="9.9" lengthAdjust="spacingAndGlyphs" fill="#333333" stroke="#333333" stroke-width="0.55" font-family='"Liberation Sans", Arial, sans-serif'>6</text>
<line x1="1191.6" y1="1471.6" x2="1203.4" y2="1471.6" stroke="#747474" stroke-width="1.9" stroke-linecap="butt"/>
<text x="1182.03" y="1480.7" font-size="17.8" textLength="9.9" lengthAdjust="spacingAndGlyphs" fill="#333333" stroke="#333333" stroke-width="0.55" font-family='"Liberation Sans", Arial, sans-serif'>8</text>
<line x1="1191.6" y1="1411.4" x2="1203.4" y2="1411.4" stroke="#747474" stroke-width="1.9" stroke-linecap="butt"/>
<text x="1172.06" y="1420.5" font-size="17.8" textLength="19.8" lengthAdjust="spacingAndGlyphs" fill="#333333" stroke="#333333" stroke-width="0.55" font-family='"Liberation Sans", Arial, sans-serif'>10</text>
<line x1="1310.6" y1="1713.6" x2="1310.6" y2="1724" stroke="#747474" stroke-width="1.9" stroke-linecap="butt"/>
<line x1="1540" y1="1713.6" x2="1540" y2="1724" stroke="#747474" stroke-width="1.9" stroke-linecap="butt"/>
<text x="1292.97" y="1743" font-size="18" textLength="34.79" lengthAdjust="spacingAndGlyphs" fill="#333333" stroke="#333333" stroke-width="0.55" font-family='"Liberation Sans", Arial, sans-serif'>First</text>
<text x="1510.2" y="1743" font-size="18" textLength="59.98" lengthAdjust="spacingAndGlyphs" fill="#333333" stroke="#333333" stroke-width="0.55" font-family='"Liberation Sans", Arial, sans-serif'>Second</text>
<text x="1376.2" y="1771" font-size="17.5" textLength="97.13" lengthAdjust="spacingAndGlyphs" fill="#333333" stroke="#333333" stroke-width="0.55" font-family='"Liberation Sans", Arial, sans-serif'>Laying order</text>
<text transform="translate(1160.47 1591) rotate(-90)" x="0" y="0" font-size="17.75" textLength="93.06" lengthAdjust="spacingAndGlyphs" fill="#333333" stroke="#333333" stroke-width="0.55" font-family='"Liberation Sans", Arial, sans-serif'>Amount (ng)</text>
<line x1="1268.2" y1="1494.6" x2="1268.2" y2="1605.5" stroke="#555" stroke-width="1.5" stroke-linecap="butt"/>
<line x1="1262.95" y1="1494.6" x2="1273.45" y2="1494.6" stroke="#555" stroke-width="1.6" stroke-linecap="butt"/>
<line x1="1268.2" y1="1697" x2="1268.2" y2="1712.6" stroke="#555" stroke-width="1.5" stroke-linecap="butt"/>
<line x1="1262.95" y1="1712.6" x2="1273.45" y2="1712.6" stroke="#555" stroke-width="1.6" stroke-linecap="butt"/>
<rect x="1257.9" y="1605.9" width="20.6" height="90.7" fill="#d3d3d3" stroke="#6e6e6e" stroke-width="1.4" rx="0.8"/>
<line x1="1258.1" y1="1654" x2="1278.3" y2="1654" stroke="#1c1c1c" stroke-width="2.8" stroke-linecap="butt"/>
<line x1="1353.2" y1="1674.4" x2="1353.2" y2="1678.6" stroke="#3a3a3a" stroke-width="1.5" stroke-linecap="butt"/>
<line x1="1347.95" y1="1674.4" x2="1358.45" y2="1674.4" stroke="#3a3a3a" stroke-width="1.6" stroke-linecap="butt"/>
<line x1="1353.2" y1="1708" x2="1353.2" y2="1713" stroke="#3a3a3a" stroke-width="1.5" stroke-linecap="butt"/>
<line x1="1347.95" y1="1713" x2="1358.45" y2="1713" stroke="#3a3a3a" stroke-width="1.6" stroke-linecap="butt"/>
<rect x="1342.4" y="1678.6" width="21.6" height="29.4" fill="#9c9c9c" stroke="none"/>
<line x1="1344.3" y1="1678.6" x2="1344.3" y2="1708" stroke="#cfcfcf" stroke-width="1" stroke-linecap="butt"/>
<line x1="1346.15" y1="1678.6" x2="1346.15" y2="1708" stroke="#6f6f6f" stroke-width="1" stroke-linecap="butt"/>
<line x1="1348" y1="1678.6" x2="1348" y2="1708" stroke="#cfcfcf" stroke-width="1" stroke-linecap="butt"/>
<line x1="1349.85" y1="1678.6" x2="1349.85" y2="1708" stroke="#6f6f6f" stroke-width="1" stroke-linecap="butt"/>
<line x1="1351.7" y1="1678.6" x2="1351.7" y2="1708" stroke="#cfcfcf" stroke-width="1" stroke-linecap="butt"/>
<line x1="1353.55" y1="1678.6" x2="1353.55" y2="1708" stroke="#6f6f6f" stroke-width="1" stroke-linecap="butt"/>
<line x1="1355.4" y1="1678.6" x2="1355.4" y2="1708" stroke="#cfcfcf" stroke-width="1" stroke-linecap="butt"/>
<line x1="1357.25" y1="1678.6" x2="1357.25" y2="1708" stroke="#6f6f6f" stroke-width="1" stroke-linecap="butt"/>
<line x1="1359.1" y1="1678.6" x2="1359.1" y2="1708" stroke="#cfcfcf" stroke-width="1" stroke-linecap="butt"/>
<line x1="1360.95" y1="1678.6" x2="1360.95" y2="1708" stroke="#6f6f6f" stroke-width="1" stroke-linecap="butt"/>
<line x1="1362.8" y1="1678.6" x2="1362.8" y2="1708" stroke="#cfcfcf" stroke-width="1" stroke-linecap="butt"/>
<rect x="1342.9" y="1679" width="20.6" height="28.6" fill="none" stroke="#4a4a4a" stroke-width="1.4" rx="0.8"/>
<line x1="1343.1" y1="1690.4" x2="1363.3" y2="1690.4" stroke="#1c1c1c" stroke-width="2.8" stroke-linecap="butt"/>
<line x1="1497.6" y1="1676.6" x2="1497.6" y2="1685" stroke="#555" stroke-width="1.5" stroke-linecap="butt"/>
<line x1="1492.35" y1="1676.6" x2="1502.85" y2="1676.6" stroke="#555" stroke-width="1.6" stroke-linecap="butt"/>
<rect x="1487.1" y="1685.4" width="21" height="27.2" fill="#d3d3d3" stroke="#6e6e6e" stroke-width="1.4" rx="0.8"/>
<line x1="1487.3" y1="1699" x2="1507.9" y2="1699" stroke="#1c1c1c" stroke-width="2.8" stroke-linecap="butt"/>
<line x1="1582.4" y1="1428" x2="1582.4" y2="1595.2" stroke="#3a3a3a" stroke-width="1.5" stroke-linecap="butt"/>
<line x1="1577.15" y1="1428" x2="1587.65" y2="1428" stroke="#3a3a3a" stroke-width="1.6" stroke-linecap="butt"/>
<rect x="1571.4" y="1595.2" width="22" height="117.8" fill="#9c9c9c" stroke="none"/>
<line x1="1573.3" y1="1595.2" x2="1573.3" y2="1713" stroke="#cfcfcf" stroke-width="1" stroke-linecap="butt"/>
<line x1="1575.15" y1="1595.2" x2="1575.15" y2="1713" stroke="#6f6f6f" stroke-width="1" stroke-linecap="butt"/>
<line x1="1577" y1="1595.2" x2="1577" y2="1713" stroke="#cfcfcf" stroke-width="1" stroke-linecap="butt"/>
<line x1="1578.85" y1="1595.2" x2="1578.85" y2="1713" stroke="#6f6f6f" stroke-width="1" stroke-linecap="butt"/>
<line x1="1580.7" y1="1595.2" x2="1580.7" y2="1713" stroke="#cfcfcf" stroke-width="1" stroke-linecap="butt"/>
<line x1="1582.55" y1="1595.2" x2="1582.55" y2="1713" stroke="#6f6f6f" stroke-width="1" stroke-linecap="butt"/>
<line x1="1584.4" y1="1595.2" x2="1584.4" y2="1713" stroke="#cfcfcf" stroke-width="1" stroke-linecap="butt"/>
<line x1="1586.25" y1="1595.2" x2="1586.25" y2="1713" stroke="#6f6f6f" stroke-width="1" stroke-linecap="butt"/>
<line x1="1588.1" y1="1595.2" x2="1588.1" y2="1713" stroke="#cfcfcf" stroke-width="1" stroke-linecap="butt"/>
<line x1="1589.95" y1="1595.2" x2="1589.95" y2="1713" stroke="#6f6f6f" stroke-width="1" stroke-linecap="butt"/>
<line x1="1591.8" y1="1595.2" x2="1591.8" y2="1713" stroke="#cfcfcf" stroke-width="1" stroke-linecap="butt"/>
<rect x="1571.9" y="1595.6" width="21" height="117" fill="none" stroke="#4a4a4a" stroke-width="1.4" rx="0.8"/>
<line x1="1572.1" y1="1645.4" x2="1592.7" y2="1645.4" stroke="#1c1c1c" stroke-width="2.8" stroke-linecap="butt"/>
<circle cx="1353" cy="1595.4" r="2.5" fill="#e6e6e6" stroke="#555" stroke-width="1.3"/>
<circle cx="1497.6" cy="1449.6" r="4.6" fill="#d3d3d3" stroke="#555" stroke-width="1.5"/>
<circle cx="1497.6" cy="1626.4" r="2.8" fill="#e6e6e6" stroke="#555" stroke-width="1.3"/>
<path d="M1323 1368 V1347 H1542 V1368" fill="none" stroke="#4a4a4a" stroke-width="2.1" stroke-linejoin="round"/>
<path d="M1282.4 1420.4 V1400 H1363.6 V1420.4" fill="none" stroke="#4a4a4a" stroke-width="2.1" stroke-linejoin="round"/>
<path d="M1501.6 1420.4 V1400 H1582 V1420.4" fill="none" stroke="#4a4a4a" stroke-width="2.1" stroke-linejoin="round"/>
<text x="1421.03" y="1339.83" font-size="18.7" letter-spacing="3.95" fill="#1e1e1e" stroke="#1e1e1e" stroke-width="0.9" stroke-linejoin="round" font-family='"DejaVu Sans", sans-serif'>*</text>
<text x="1309.1" y="1394.1" font-size="23.5" textLength="24.33" lengthAdjust="spacingAndGlyphs" fill="#1e1e1e" stroke="#1e1e1e" stroke-width="0.45" font-family='"Liberation Sans", Arial, sans-serif'>ns</text>
<text x="1526.48" y="1394.1" font-size="23.5" textLength="24.77" lengthAdjust="spacingAndGlyphs" fill="#1e1e1e" stroke="#1e1e1e" stroke-width="0.45" font-family='"Liberation Sans", Arial, sans-serif'>ns</text>
<text x="1285.39" y="1308.6" font-size="22.6" textLength="210.66" lengthAdjust="spacingAndGlyphs" fill="#1e1e1e" stroke="#1e1e1e" stroke-width="0.45" font-family='"Liberation Sans", Arial, sans-serif'>Conjugated estrone</text>
<text x="1191.02" y="1304.6" font-size="37.1" textLength="20.53" lengthAdjust="spacingAndGlyphs" fill="#1e1e1e" stroke="#1e1e1e" stroke-width="0.7" font-family='"Liberation Sans", Arial, sans-serif'>h</text>
<rect x="1153" y="63" width="29.2" height="29" fill="#d3d3d3" stroke="#666" stroke-width="1.5" rx="1.2"/>
<rect x="1153" y="103.2" width="29.2" height="29" fill="#9c9c9c" stroke="none"/>
<line x1="1155.6" y1="103.2" x2="1155.6" y2="132.2" stroke="#d0d0d0" stroke-width="1.4" stroke-linecap="butt"/>
<line x1="1158.3" y1="103.2" x2="1158.3" y2="132.2" stroke="#6a6a6a" stroke-width="1.4" stroke-linecap="butt"/>
<line x1="1161" y1="103.2" x2="1161" y2="132.2" stroke="#d0d0d0" stroke-width="1.4" stroke-linecap="butt"/>
<line x1="1163.7" y1="103.2" x2="1163.7" y2="132.2" stroke="#6a6a6a" stroke-width="1.4" stroke-linecap="butt"/>
<line x1="1166.4" y1="103.2" x2="1166.4" y2="132.2" stroke="#d0d0d0" stroke-width="1.4" stroke-linecap="butt"/>
<line x1="1169.1" y1="103.2" x2="1169.1" y2="132.2" stroke="#6a6a6a" stroke-width="1.4" stroke-linecap="butt"/>
<line x1="1171.8" y1="103.2" x2="1171.8" y2="132.2" stroke="#d0d0d0" stroke-width="1.4" stroke-linecap="butt"/>
<line x1="1174.5" y1="103.2" x2="1174.5" y2="132.2" stroke="#6a6a6a" stroke-width="1.4" stroke-linecap="butt"/>
<line x1="1177.2" y1="103.2" x2="1177.2" y2="132.2" stroke="#d0d0d0" stroke-width="1.4" stroke-linecap="butt"/>
<line x1="1179.9" y1="103.2" x2="1179.9" y2="132.2" stroke="#6a6a6a" stroke-width="1.4" stroke-linecap="butt"/>
<rect x="1153" y="103.2" width="29.2" height="29" fill="none" stroke="#4a4a4a" stroke-width="1.5" rx="1.2"/>
<text x="1185.73" y="91.8" font-size="30.2" textLength="289.68" lengthAdjust="spacingAndGlyphs" fill="#1e1e1e" stroke="#1e1e1e" stroke-width="0.45" font-family='"Liberation Sans", Arial, sans-serif'>Pre-ovulatory follicle</text>
<text x="1185.68" y="132.2" font-size="30.2" textLength="310.36" lengthAdjust="spacingAndGlyphs" fill="#1e1e1e" stroke="#1e1e1e" stroke-width="0.45" font-family='"Liberation Sans", Arial, sans-serif'>Egg (yolk + albumen)</text>
<text x="1154.51" y="191.5" font-size="30.4" textLength="259.64" lengthAdjust="spacingAndGlyphs" fill="#1e1e1e" stroke="#1e1e1e" stroke-width="0.45" font-family='"Liberation Sans", Arial, sans-serif'>first follicles n= 12</text>
<text x="1154.53" y="234.1" font-size="30.4" textLength="198.71" lengthAdjust="spacingAndGlyphs" fill="#1e1e1e" stroke="#1e1e1e" stroke-width="0.45" font-family='"Liberation Sans", Arial, sans-serif'>first eggs n= 8</text>
<text x="1154.04" y="276.7" font-size="30.4" textLength="306.04" lengthAdjust="spacingAndGlyphs" fill="#1e1e1e" stroke="#1e1e1e" stroke-width="0.45" font-family='"Liberation Sans", Arial, sans-serif'>second follicles n= 12</text>
<text x="1154.07" y="318.2" font-size="30.4" textLength="245.26" lengthAdjust="spacingAndGlyphs" fill="#1e1e1e" stroke="#1e1e1e" stroke-width="0.45" font-family='"Liberation Sans", Arial, sans-serif'>second eggs n= 8</text>
</svg>
</body></html>
